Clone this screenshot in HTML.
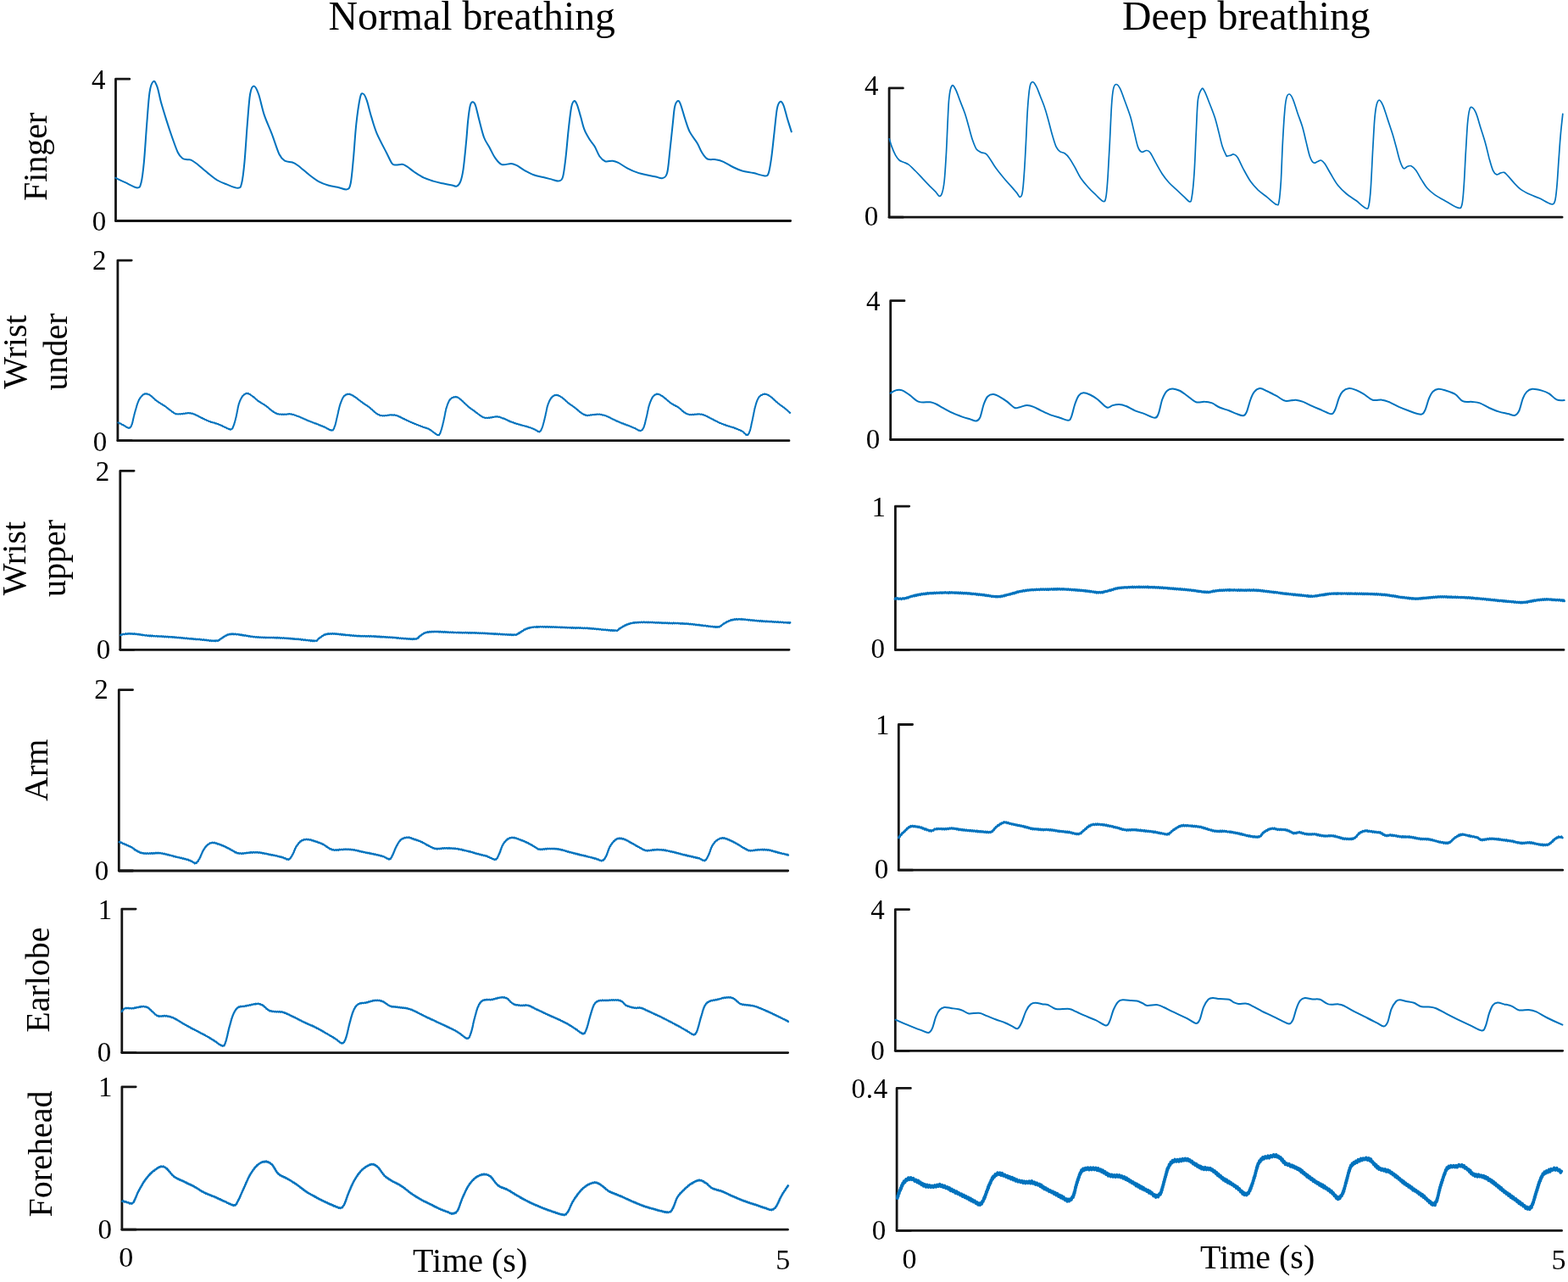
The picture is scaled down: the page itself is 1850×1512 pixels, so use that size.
<!DOCTYPE html>
<html><head><meta charset="utf-8"><title>Normal vs deep breathing PPG</title>
<style>
html,body{margin:0;padding:0;background:#fff;}
svg{display:block;}
.t{font-family:"Liberation Serif","Times New Roman",serif;fill:#000;}
.ax{fill:none;stroke:#141414;stroke-width:2.8;stroke-linecap:round;stroke-linejoin:round;}
.w{fill:none;stroke:#0072bd;stroke-linejoin:round;stroke-linecap:round;}
</style></head>
<body>
<svg width="1850" height="1512" viewBox="0 0 1850 1512">
<text x="387.5" y="35" font-size="47.8" class="t">Normal breathing</text>
<text x="1324" y="35" font-size="47.7" class="t">Deep breathing</text>
<path d="M152.8,93.2H136.5V260.5H932.7" class="ax"/>
<path d="M136.5,260.5H152.8" class="ax" stroke-width="3.4"/>
<path d="M155.2,307.1H138.9V519.7H931.0" class="ax"/>
<path d="M138.9,519.7H155.2" class="ax" stroke-width="3.4"/>
<path d="M158.1,555.3H141.8V766.3H931.1" class="ax"/>
<path d="M141.8,766.3H158.1" class="ax" stroke-width="3.4"/>
<path d="M156.6,813.6H140.3V1027.0H929.7" class="ax"/>
<path d="M140.3,1027.0H156.6" class="ax" stroke-width="3.4"/>
<path d="M160.1,1072.1H143.8V1241.6H929.7" class="ax"/>
<path d="M143.8,1241.6H160.1" class="ax" stroke-width="3.4"/>
<path d="M160.2,1281.8H143.9V1450.2H929.5" class="ax"/>
<path d="M143.9,1450.2H160.2" class="ax" stroke-width="3.4"/>
<path d="M1065.4,103.9H1049.1V256.2H1843.1" class="ax"/>
<path d="M1049.1,256.2H1065.4" class="ax" stroke-width="3.4"/>
<path d="M1067.0,354.7H1050.7V518.5H1844.1" class="ax"/>
<path d="M1050.7,518.5H1067.0" class="ax" stroke-width="3.4"/>
<path d="M1072.7,597.1H1056.4V766.4H1845.0" class="ax"/>
<path d="M1056.4,766.4H1072.7" class="ax" stroke-width="3.4"/>
<path d="M1076.6,854.5H1060.3V1026.2H1843.7" class="ax"/>
<path d="M1060.3,1026.2H1076.6" class="ax" stroke-width="3.4"/>
<path d="M1072.6,1072.7H1056.3V1239.3H1843.7" class="ax"/>
<path d="M1056.3,1239.3H1072.6" class="ax" stroke-width="3.4"/>
<path d="M1074.4,1283.4H1058.1V1451.4H1842.6" class="ax"/>
<path d="M1058.1,1451.4H1074.4" class="ax" stroke-width="3.4"/>
<text x="107.9" y="105.0" font-size="33" class="t">4</text>
<text x="108.7" y="271.5" font-size="33" class="t">0</text>
<text x="109.1" y="318.0" font-size="33" class="t">2</text>
<text x="109.7" y="531.5" font-size="33" class="t">0</text>
<text x="112.7" y="566.9" font-size="33" class="t">2</text>
<text x="113.7" y="776.5" font-size="33" class="t">0</text>
<text x="111.3" y="824.0" font-size="33" class="t">2</text>
<text x="111.7" y="1037.5" font-size="33" class="t">0</text>
<text x="115.7" y="1084.0" font-size="33" class="t">1</text>
<text x="114.7" y="1251.5" font-size="33" class="t">0</text>
<text x="116.0" y="1293.3" font-size="33" class="t">1</text>
<text x="115.4" y="1460.5" font-size="33" class="t">0</text>
<text x="1020.0" y="111.9" font-size="33" class="t">4</text>
<text x="1019.7" y="265.7" font-size="33" class="t">0</text>
<text x="1021.9" y="366.0" font-size="33" class="t">4</text>
<text x="1021.7" y="528.7" font-size="33" class="t">0</text>
<text x="1028.5" y="608.7" font-size="33" class="t">1</text>
<text x="1027.4" y="775.7" font-size="33" class="t">0</text>
<text x="1033.0" y="866.0" font-size="33" class="t">1</text>
<text x="1031.7" y="1036.2" font-size="33" class="t">0</text>
<text x="1027.3" y="1084.3" font-size="33" class="t">4</text>
<text x="1027.2" y="1250.1" font-size="33" class="t">0</text>
<text x="1004.5" y="1295.0" font-size="33" class="t" letter-spacing="0.7">0.4</text>
<text x="1028.7" y="1462.2" font-size="33" class="t">0</text>
<text x="140.3" y="1494.0" font-size="34" class="t">0</text>
<text x="915.2" y="1496.6" font-size="34" class="t">5</text>
<text x="1064.4" y="1495.5" font-size="34" class="t">0</text>
<text x="1830.5" y="1496.6" font-size="34" class="t">5</text>
<text x="487" y="1500" font-size="40" class="t">Time (s)</text>
<text x="1416" y="1496.4" font-size="40" class="t">Time (s)</text>
<text transform="translate(54.6,184.9) rotate(-90)" text-anchor="middle" font-size="40" class="t">Finger</text>
<text transform="translate(31.3,415.0) rotate(-90)" text-anchor="middle" font-size="40" class="t">Wrist</text>
<text transform="translate(79.0,415.0) rotate(-90)" text-anchor="middle" font-size="40" class="t">under</text>
<text transform="translate(29.7,658.5) rotate(-90)" text-anchor="middle" font-size="40" class="t">Wrist</text>
<text transform="translate(76.8,658.5) rotate(-90)" text-anchor="middle" font-size="40" class="t">upper</text>
<text transform="translate(56.2,908.3) rotate(-90)" text-anchor="middle" font-size="40" class="t">Arm</text>
<text transform="translate(58.0,1155.6) rotate(-90)" text-anchor="middle" font-size="40" class="t">Earlobe</text>
<text transform="translate(61.3,1361.0) rotate(-90)" text-anchor="middle" font-size="40" class="t">Forehead</text>
<path d="M136.2,209.7C138.1,210.6 143.4,213.2 147.7,215.2C152.1,217.2 159.0,221.4 162.1,221.4C165.3,221.4 165.3,220.3 166.6,215.2C167.9,210.1 168.8,202.3 169.9,190.8C171.0,179.4 172.1,160.2 173.2,146.5C174.3,132.8 175.2,117.2 176.5,108.8C177.8,100.4 179.5,97.1 181.0,96.0C182.5,94.8 183.9,98.2 185.4,102.2C186.9,106.2 188.0,113.2 189.8,119.9C191.7,126.5 194.3,135.0 196.5,142.1C198.7,149.1 200.9,155.7 203.1,162.0C205.4,168.3 207.8,175.6 209.8,179.7C211.8,183.9 213.5,185.4 215.3,186.8C217.2,188.2 219.2,187.9 220.9,188.2C222.5,188.5 223.5,187.8 225.3,188.6C227.1,189.4 228.6,190.4 232.0,193.0C235.3,195.6 241.2,200.9 245.2,204.1C249.3,207.4 252.6,210.3 256.3,212.5C260.0,214.8 263.3,215.9 267.4,217.4C271.5,219.0 277.8,222.0 280.7,221.8C283.7,221.7 283.8,221.5 285.1,216.3C286.4,211.1 287.4,202.5 288.5,190.8C289.6,179.2 290.7,159.8 291.8,146.5C292.9,133.2 293.8,118.5 295.1,111.0C296.4,103.5 297.9,101.5 299.5,101.5C301.2,101.5 303.1,105.4 305.1,111.0C307.1,116.7 309.2,127.7 311.7,135.4C314.3,143.2 317.6,149.8 320.6,157.6C323.6,165.3 326.9,176.6 329.5,182.0C332.1,187.3 333.5,188.1 336.1,189.7C338.7,191.3 342.4,190.6 345.0,191.5C347.6,192.4 348.3,192.8 351.6,195.2C355.0,197.7 360.9,203.2 364.9,206.3C369.0,209.5 372.3,212.1 376.0,214.1C379.7,216.1 383.4,217.4 387.1,218.5C390.8,219.6 394.5,219.9 398.2,220.7C401.9,221.5 406.7,224.1 409.3,223.4C411.8,222.7 412.4,222.5 413.7,216.3C415.0,210.1 415.9,198.0 417.0,186.4C418.1,174.7 419.0,158.3 420.3,146.5C421.6,134.7 423.5,121.5 424.8,115.5C426.1,109.4 426.8,110.0 428.1,110.4C429.4,110.7 430.9,113.1 432.5,117.7C434.2,122.2 436.0,131.0 438.1,137.6C440.1,144.3 441.8,150.6 444.7,157.6C447.7,164.6 452.8,173.9 455.8,179.7C458.8,185.6 460.6,190.1 462.4,192.6C464.3,195.1 464.8,194.4 466.9,194.6C468.9,194.8 472.4,193.4 474.6,193.7C476.9,194.0 477.8,194.8 480.2,196.4C482.6,197.9 485.7,200.8 489.0,203.0C492.4,205.2 496.4,207.9 500.1,209.7C503.8,211.4 507.5,212.5 511.2,213.6C514.9,214.8 518.6,215.5 522.3,216.3C526.0,217.1 530.6,218.0 533.4,218.5C536.1,219.1 537.2,220.4 538.9,219.6C540.5,218.9 542.0,217.4 543.3,214.1C544.6,210.8 545.5,207.3 546.6,199.7C547.7,192.1 549.0,178.3 549.9,168.7C550.9,159.0 551.4,149.4 552.2,142.1C553.0,134.7 553.9,127.9 554.8,124.3C555.7,120.7 556.7,120.3 557.7,120.3C558.7,120.3 559.7,120.7 561.0,124.3C562.3,127.9 563.8,135.8 565.5,142.1C567.1,148.3 569.0,156.6 571.0,162.0C573.0,167.4 575.4,170.1 577.7,174.2C579.9,178.3 581.9,183.1 584.3,186.4C586.7,189.7 588.9,193.0 592.1,194.1C595.2,195.2 600.2,192.8 603.1,193.0C606.1,193.2 607.2,194.0 609.8,195.2C612.4,196.5 615.3,198.9 618.7,200.8C622.0,202.6 626.0,205.0 629.7,206.3C633.4,207.7 637.1,208.1 640.8,209.0C644.5,209.9 648.8,211.1 651.9,211.9C655.0,212.6 657.6,214.0 659.7,213.4C661.7,212.9 662.8,213.1 664.1,208.5C665.4,204.0 666.3,195.6 667.4,186.4C668.5,177.1 669.6,163.1 670.7,153.1C671.8,143.2 673.0,132.2 674.1,126.5C675.2,120.9 676.3,119.8 677.4,119.2C678.5,118.7 679.4,120.2 680.7,123.2C682.0,126.3 683.7,132.6 685.1,137.6C686.6,142.6 687.7,148.5 689.6,153.1C691.4,157.8 694.2,162.0 696.2,165.3C698.3,168.7 699.9,169.9 701.8,173.1C703.6,176.2 705.3,181.3 707.3,184.2C709.3,187.0 711.4,189.2 714.0,190.2C716.5,191.1 720.2,189.4 722.8,189.7C725.4,190.0 726.5,190.4 729.5,191.9C732.4,193.4 736.9,196.7 740.5,198.6C744.2,200.5 747.9,202.2 751.6,203.4C755.3,204.7 759.0,205.5 762.7,206.3C766.4,207.2 770.7,207.9 773.8,208.5C776.9,209.2 779.3,210.8 781.6,210.1C783.8,209.4 785.6,209.5 787.1,204.1C788.6,198.7 789.3,187.1 790.4,177.5C791.5,167.9 792.8,155.0 793.7,146.5C794.7,138.0 795.0,131.1 796.0,126.5C796.9,122.0 798.2,120.0 799.3,119.2C800.4,118.5 801.1,118.7 802.6,122.1C804.1,125.5 806.3,134.3 808.1,139.8C810.0,145.4 811.3,150.6 813.7,155.4C816.1,160.2 820.2,164.6 822.6,168.7C825.0,172.7 826.1,176.6 828.1,179.7C830.1,182.9 832.0,186.1 834.7,187.5C837.5,188.9 841.6,187.6 844.7,188.2C847.9,188.7 850.3,189.3 853.6,190.8C856.9,192.3 861.0,195.2 864.7,197.0C868.4,198.8 871.7,200.3 875.7,201.5C879.8,202.6 884.6,203.1 889.0,204.1C893.5,205.1 899.4,207.4 902.3,207.4C905.3,207.4 905.5,207.6 906.8,204.1C908.1,200.6 909.0,194.1 910.1,186.4C911.2,178.6 912.3,167.2 913.4,157.6C914.5,148.0 915.6,135.0 916.7,128.8C917.9,122.5 919.2,120.6 920.5,119.9C921.8,119.2 923.1,121.0 924.5,124.3C925.9,127.7 927.4,134.7 928.9,139.8C930.5,145.0 933.0,152.8 933.8,155.4" class="w" stroke-width="2.0"/>
<path d="M139.3,498.5L140.1,498.4L141.3,499.6L142.7,499.6L144.1,501.0L145.5,501.1L146.6,502.3L147.8,502.4L149.0,503.7L150.2,503.9L151.2,504.9L152.2,504.5L153.2,504.8L154.0,503.6L154.7,503.0L155.5,500.7L155.8,500.3L156.1,498.8L156.4,498.2L156.6,496.6L156.9,495.8L157.2,494.0L157.5,493.2L157.8,491.3L158.1,490.5L158.5,488.7L158.8,487.9L159.1,486.2L159.5,485.4L159.8,483.7L160.2,483.0L160.6,481.1L161.0,480.3L161.3,478.5L161.7,477.8L162.1,476.0L162.5,475.5L162.9,473.9L163.2,473.6L164.0,471.3L164.7,470.6L165.5,468.8L166.2,468.5L166.9,467.1L167.7,466.9L168.8,465.3L169.8,465.2L170.9,464.2L172.1,464.7L173.4,464.2L174.7,465.2L176.1,465.3L177.7,466.8L178.5,466.9L179.4,468.2L180.3,468.5L181.3,469.9L182.3,470.4L183.3,471.8L184.4,472.2L185.4,473.5L186.5,473.6L187.6,475.0L188.7,475.1L189.9,476.4L191.1,476.5L192.2,477.7L193.3,477.9L194.3,479.0L195.5,479.4L196.7,480.8L197.7,481.1L198.8,482.6L199.8,482.7L200.9,484.1L202.0,484.4L203.1,485.8L204.2,486.0L205.3,487.3L206.4,487.4L207.6,488.4L208.8,488.1L210.1,488.6L211.4,488.1L212.7,488.6L214.0,487.9L215.3,488.4L216.6,487.6L218.0,488.0L219.3,487.2L220.6,487.6L221.9,486.9L223.1,487.4L224.5,487.1L225.7,487.8L227.0,487.5L228.3,488.4L229.7,488.5L230.7,489.5L231.8,489.4L232.9,490.4L234.0,490.5L235.2,491.7L236.3,491.8L237.5,492.9L238.6,492.8L239.7,494.0L240.8,493.9L241.9,495.1L243.0,494.9L244.1,496.1L245.2,496.0L246.4,497.0L247.5,496.9L248.8,497.9L250.1,497.7L251.4,498.6L252.7,498.4L254.0,499.4L255.2,499.2L256.3,500.1L257.5,500.0L258.6,501.1L259.7,500.9L260.7,501.9L261.8,501.8L263.0,503.0L264.0,502.9L265.2,504.0L266.4,504.1L267.6,505.2L268.8,505.3L270.0,506.3L271.0,506.0L271.8,506.8L273.4,505.9L274.3,505.3L275.2,502.9L275.5,502.5L275.9,500.9L276.3,500.5L276.6,498.7L277.0,498.0L277.4,496.1L277.8,495.2L278.1,493.2L278.5,492.3L278.7,490.8L279.0,490.1L279.2,488.4L279.5,487.7L279.7,485.9L280.0,485.1L280.2,483.3L280.5,482.5L280.7,480.7L281.0,480.0L281.2,478.4L281.5,477.9L281.8,476.2L282.3,475.3L282.8,473.4L283.3,472.7L283.9,470.9L284.5,470.3L285.0,468.7L285.6,468.3L286.2,466.9L287.3,466.4L288.3,464.9L289.4,464.8L290.6,463.7L291.8,464.3L292.8,463.8L293.9,464.9L295.0,464.9L296.2,466.3L297.3,466.6L298.4,468.0L299.4,468.1L300.3,469.4L301.2,469.7L302.1,471.0L303.0,471.3L304.0,472.7L305.1,472.9L306.1,474.2L307.2,474.3L308.3,475.5L309.5,475.7L310.7,476.9L311.8,477.1L312.9,478.4L314.0,478.5L315.0,479.8L316.0,480.2L317.0,481.5L317.9,481.8L318.8,483.1L319.7,483.3L320.6,484.6L321.7,484.7L322.7,486.1L323.8,486.2L324.9,487.4L326.0,487.3L327.3,488.4L328.4,488.1L329.7,488.8L331.0,488.4L332.4,489.0L333.7,488.4L334.9,489.1L336.1,488.4L337.6,489.0L338.8,488.3L340.1,488.6L341.3,487.9L342.8,488.6L343.9,488.2L345.1,489.1L346.3,488.8L347.6,489.7L348.9,489.7L350.2,490.7L351.6,490.7L352.6,491.6L353.7,491.5L354.8,492.6L355.9,492.5L357.0,493.5L358.2,493.5L359.3,494.6L360.5,494.6L361.6,495.6L362.7,495.6L364.0,496.6L365.2,496.5L366.5,497.6L367.8,497.5L369.0,498.5L370.3,498.5L371.5,499.5L372.7,499.3L373.8,500.3L375.2,500.3L376.5,501.4L377.7,501.3L379.0,502.4L380.2,502.2L381.4,503.4L382.7,503.2L383.8,504.4L385.0,504.4L386.2,505.7L387.4,505.8L388.6,507.0L389.7,506.9L390.7,507.7L391.5,507.3L392.7,507.6L393.5,506.1L394.1,505.3L394.8,502.8L395.2,502.5L395.5,501.0L395.8,500.4L396.1,498.7L396.4,498.0L396.7,496.1L397.0,495.4L397.3,493.5L397.6,492.7L397.9,490.8L398.2,490.1L398.5,488.3L398.8,487.6L399.1,485.8L399.3,485.1L399.6,483.3L399.9,482.7L400.2,480.9L400.5,480.2L400.8,478.5L401.2,477.8L401.5,476.2L402.0,475.5L402.5,473.5L403.0,472.8L403.6,470.9L404.1,470.3L404.7,468.6L405.3,468.4L405.9,466.9L407.0,466.5L408.0,465.3L409.1,465.4L410.3,464.6L411.5,465.0L412.5,464.6L413.5,465.5L414.6,465.4L415.7,466.5L416.9,466.6L418.1,468.0L419.0,468.0L419.9,469.2L420.9,469.3L421.9,470.7L422.9,471.0L423.9,472.3L425.0,472.5L426.0,473.8L427.0,474.0L428.0,475.4L429.0,475.4L429.9,476.7L430.9,476.8L431.9,477.9L432.9,478.1L433.9,479.3L434.9,479.5L435.9,480.7L436.8,481.0L437.9,482.6L438.9,482.8L439.9,484.3L440.9,484.7L441.9,486.1L442.9,486.4L443.8,487.7L444.7,487.8L446.1,489.1L447.3,489.1L448.5,490.2L449.8,489.9L451.4,490.5L452.4,490.1L453.6,490.5L454.9,489.9L456.2,490.3L457.6,489.5L458.9,489.9L460.2,489.2L461.4,489.7L462.4,489.2L464.0,489.7L465.3,489.2L466.5,490.0L467.7,489.8L469.1,490.7L470.1,490.6L471.2,491.7L472.3,491.5L473.4,492.7L474.5,492.8L475.7,493.9L476.8,493.8L478.0,495.0L479.1,494.9L480.1,496.0L481.2,496.0L482.3,497.0L483.3,496.9L484.5,498.0L485.6,497.9L486.8,499.0L488.0,498.9L489.2,500.0L490.4,499.9L491.7,501.0L493.0,501.0L494.3,502.0L495.6,501.9L496.8,503.0L497.9,502.9L499.3,503.9L500.6,503.9L501.8,504.8L503.0,504.6L504.2,505.6L505.5,505.5L506.8,506.8L507.9,506.8L509.0,508.2L510.3,508.6L511.5,510.1L512.7,510.5L513.9,511.8L515.0,512.1L515.9,513.2L516.7,512.9L518.0,513.3L518.8,511.8L519.4,510.9L520.1,508.4L520.4,508.1L520.7,506.6L521.1,506.0L521.4,504.2L521.7,503.5L522.1,501.7L522.4,501.0L522.7,498.9L523.1,498.1L523.4,496.2L523.6,495.7L523.9,493.9L524.1,493.3L524.4,491.5L524.6,490.7L524.9,489.0L525.1,488.2L525.4,486.4L525.6,485.8L525.9,484.0L526.1,483.3L526.4,481.8L526.7,481.2L527.2,479.4L527.6,478.6L528.0,476.6L528.5,476.1L529.0,474.4L529.5,473.9L530.0,472.3L530.6,472.1L531.2,470.7L532.1,470.3L533.2,469.1L534.4,469.0L535.6,468.1L536.7,468.5L537.8,467.8L538.9,468.6L539.9,468.3L540.9,469.4L542.0,469.7L543.3,471.3L544.0,471.3L544.9,472.6L545.7,472.9L546.6,474.3L547.5,474.6L548.5,476.1L549.4,476.4L550.3,477.8L551.3,478.1L552.2,479.5L553.1,479.8L554.1,481.1L555.1,481.3L556.1,482.6L557.1,482.7L558.1,484.0L559.1,484.1L560.0,485.4L561.0,485.5L562.0,486.9L563.0,487.1L564.1,488.4L565.1,488.7L566.1,490.0L567.1,490.1L568.1,491.3L569.0,491.3L569.9,492.3L571.3,492.3L572.6,493.1L573.8,492.6L575.0,493.1L576.5,492.5L577.6,493.0L578.9,492.2L580.1,492.6L581.5,491.7L582.8,491.9L584.1,491.3L585.4,491.7L586.5,491.1L587.9,491.9L589.2,491.5L590.5,492.4L591.7,492.4L592.9,493.4L594.3,493.3L595.3,494.3L596.4,494.2L597.5,495.3L598.6,495.3L599.8,496.4L600.9,496.3L602.0,497.5L603.1,497.3L604.4,498.3L605.6,498.1L606.8,499.2L608.0,499.0L609.3,499.9L610.6,499.8L612.0,500.8L613.2,500.5L614.4,501.4L615.7,501.3L617.0,502.1L618.3,502.0L619.6,502.8L620.8,502.6L622.0,503.5L623.1,503.3L624.6,504.3L626.0,504.3L627.3,505.3L628.5,505.2L629.7,506.3L630.8,506.2L632.1,507.4L633.3,507.6L634.4,508.9L635.5,508.7L636.4,509.5L637.4,508.3L638.2,507.9L638.9,505.9L639.7,504.6L640.0,503.0L640.4,502.5L640.7,500.9L641.0,500.3L641.4,498.4L641.7,497.8L642.0,495.9L642.4,495.0L642.7,493.1L643.0,492.4L643.3,490.6L643.6,490.0L643.8,488.1L644.1,487.4L644.4,485.7L644.6,485.0L644.9,483.1L645.2,482.4L645.4,480.6L645.7,480.0L646.0,478.4L646.4,477.9L646.8,476.0L647.4,475.2L647.9,473.3L648.4,472.8L649.0,471.1L649.6,470.8L650.2,469.3L650.8,469.1L651.8,467.5L652.9,467.2L654.0,466.1L655.1,466.3L656.3,465.7L657.4,466.3L658.4,466.0L659.5,467.0L660.6,467.1L661.8,468.3L663.0,468.4L663.9,469.7L664.8,469.9L665.8,471.3L666.8,471.6L667.8,473.1L668.8,473.5L669.8,475.0L670.7,475.2L671.9,476.5L673.0,476.9L674.1,478.2L675.2,478.3L676.4,479.7L677.4,479.9L678.5,481.3L679.5,481.5L680.5,483.0L681.4,483.1L682.4,484.6L683.3,484.8L684.2,486.1L685.1,486.3L686.2,487.5L687.3,487.7L688.4,488.9L689.5,488.8L690.6,489.9L691.8,489.5L693.0,490.3L694.3,489.6L695.6,490.0L696.9,489.2L698.2,489.6L699.5,488.9L700.8,489.3L702.1,488.7L703.4,489.0L704.6,488.4L705.9,488.9L707.3,488.4L708.5,489.1L709.8,488.8L711.0,489.7L712.3,489.4L713.6,490.3L714.9,490.2L716.2,491.3L717.3,491.2L718.4,492.2L719.5,492.3L720.6,493.4L721.7,493.4L722.8,494.6L723.9,494.6L725.0,495.6L726.1,495.6L727.3,496.7L728.4,496.5L729.5,497.6L730.6,497.5L731.7,498.6L732.8,498.4L733.9,499.5L735.2,499.3L736.5,500.5L737.8,500.3L739.1,501.4L740.4,501.3L741.6,502.3L742.8,502.2L744.0,503.3L745.2,503.2L746.3,504.2L747.3,504.2L748.4,505.1L749.4,505.0L750.7,506.3L752.0,506.5L753.3,507.7L754.5,507.6L755.6,508.3L756.7,507.5L757.7,507.3L758.5,505.7L759.4,504.5L759.7,503.1L760.1,502.7L760.4,501.0L760.8,500.3L761.1,498.5L761.4,497.8L761.7,495.8L762.1,495.1L762.4,493.2L762.7,492.4L763.0,490.6L763.3,490.0L763.5,488.3L763.8,487.6L764.0,485.7L764.3,485.0L764.6,483.2L764.8,482.5L765.1,480.7L765.4,480.0L765.7,478.4L766.0,478.0L766.5,476.0L766.9,475.3L767.4,473.4L767.9,472.9L768.4,471.1L768.9,470.6L769.4,469.1L769.9,468.7L770.5,467.5L771.5,466.8L772.6,465.5L773.7,465.5L774.8,464.5L776.0,465.0L777.0,464.7L778.1,465.6L779.1,465.6L780.2,466.7L781.4,467.0L782.7,468.4L783.5,468.5L784.5,469.9L785.5,470.1L786.4,471.5L787.5,471.9L788.5,473.3L789.5,473.5L790.5,475.0L791.5,475.2L792.6,476.4L793.8,476.5L794.9,477.8L796.1,477.8L797.2,479.0L798.3,478.9L799.4,480.2L800.4,480.2L801.5,481.6L802.5,481.9L803.4,483.3L804.3,483.5L805.2,484.9L806.1,485.1L807.0,486.4L808.1,486.5L809.1,487.7L810.1,487.7L811.1,488.6L812.3,488.5L813.7,489.3L814.7,488.8L815.9,489.3L817.2,488.7L818.6,489.2L819.9,488.5L821.2,488.9L822.5,488.3L823.7,488.7L824.8,488.2L826.3,488.9L827.6,488.4L828.8,489.3L830.0,489.1L831.4,490.1L832.4,490.0L833.5,491.1L834.6,491.0L835.7,492.2L836.9,492.2L838.0,493.4L839.2,493.4L840.3,494.6L841.4,494.5L842.5,495.7L843.6,495.7L844.7,496.8L845.8,496.8L846.9,497.9L848.0,497.9L849.1,498.9L850.4,499.0L851.7,500.0L852.9,499.9L854.2,501.0L855.5,500.8L856.7,501.9L858.0,501.7L859.3,502.7L860.5,502.5L861.8,503.6L863.1,503.4L864.3,504.3L865.6,504.1L866.9,505.2L868.0,505.0L869.2,506.0L870.3,506.0L871.5,507.0L872.7,506.9L873.8,508.0L874.8,507.8L875.7,508.9L877.1,509.4L878.3,511.1L879.4,511.6L880.4,513.1L881.3,512.8L882.3,513.1L883.1,511.7L883.8,510.9L884.6,508.3L884.9,508.1L885.2,506.6L885.4,506.0L885.7,504.4L886.0,503.7L886.3,501.9L886.5,501.1L886.8,499.2L887.1,498.4L887.4,496.5L887.7,495.9L887.9,494.0L888.2,493.4L888.4,491.7L888.7,490.9L888.9,489.1L889.2,488.5L889.4,486.6L889.7,485.9L889.9,484.1L890.2,483.4L890.4,481.8L890.7,481.2L891.0,479.6L891.3,479.1L891.7,477.1L892.1,476.2L892.6,474.3L893.0,473.6L893.5,471.8L894.0,471.2L894.5,469.7L895.1,469.2L895.7,467.8L896.7,467.4L897.7,466.0L898.9,465.9L900.0,464.9L901.2,465.1L902.3,464.5L903.4,465.1L904.5,464.9L905.5,465.8L906.6,465.8L907.8,467.1L909.0,467.4L909.9,468.6L910.8,468.8L911.8,470.2L912.8,470.6L913.8,472.1L914.8,472.5L915.8,474.0L916.9,474.3L917.9,475.8L918.9,476.0L919.9,477.3L920.9,477.6L922.0,478.8L923.0,479.0L924.0,480.3L925.0,480.4L925.9,481.8L926.7,481.9L927.9,483.4L929.0,483.8L930.0,485.3L930.9,485.6L931.7,486.9L932.3,486.8" class="w" stroke-width="2.0"/>
<path d="M142.2,749.2L143.0,748.3L144.1,748.7L145.4,747.7L146.8,748.2L148.4,747.2L149.9,747.9L151.0,747.0L152.1,747.7L153.3,747.0L154.5,747.8L155.8,747.1L157.0,748.0L158.4,747.2L159.7,748.1L161.0,747.5L162.1,748.4L163.2,747.7L164.3,748.7L165.3,748.0L166.4,748.9L167.6,748.4L168.7,749.3L170.0,748.8L171.3,749.7L172.8,749.1L174.3,750.0L175.3,749.3L176.4,750.3L177.5,749.4L178.7,750.5L179.8,749.5L181.1,750.5L182.3,749.9L183.6,750.6L184.9,749.9L186.2,750.8L187.5,750.1L188.8,750.9L190.1,750.1L191.4,751.1L192.7,750.3L194.0,751.3L195.2,750.5L196.5,751.4L197.7,750.6L199.0,751.7L200.2,750.9L201.5,751.6L202.8,751.0L204.0,751.8L205.3,751.1L206.6,752.2L207.8,751.4L209.1,752.3L210.4,751.7L211.6,752.5L212.8,751.8L214.0,752.7L215.2,752.0L216.4,753.0L217.5,752.3L218.7,753.2L220.1,752.4L221.4,753.5L222.7,752.8L224.0,753.7L225.3,752.9L226.5,753.8L227.7,753.2L228.9,754.1L230.2,753.4L231.4,754.3L232.6,753.6L233.8,754.4L235.1,753.7L236.4,754.7L237.6,754.0L238.9,755.0L240.3,754.2L241.7,755.2L243.1,754.5L244.5,755.5L245.9,754.9L247.2,755.9L248.6,755.2L249.9,756.1L251.1,755.3L252.3,756.1L253.4,755.4L254.3,756.3L255.2,755.4L257.1,755.9L258.2,754.8L258.9,755.1L259.7,753.5L260.8,753.5L261.7,752.3L262.7,752.5L263.7,750.9L264.8,750.9L266.0,749.6L267.2,749.6L268.4,748.4L269.6,748.7L270.7,747.7L271.7,748.4L272.7,747.5L273.8,748.2L274.9,747.3L276.1,748.3L277.5,747.5L279.0,748.5L280.7,747.8L281.7,748.7L282.7,748.2L283.7,749.1L284.8,748.4L285.9,749.5L287.1,748.8L288.3,749.8L289.6,749.2L290.8,750.2L292.1,749.7L293.4,750.7L294.7,750.1L296.1,751.1L297.4,750.5L298.8,751.4L300.2,750.8L301.5,751.7L302.9,751.1L304.0,751.8L305.1,751.2L306.3,752.0L307.5,751.4L308.7,752.1L309.9,751.5L311.2,752.2L312.4,751.5L313.7,752.4L314.9,751.6L316.2,752.3L317.4,751.6L318.7,752.4L319.9,751.7L321.2,752.4L322.4,751.7L323.6,752.5L324.8,751.8L326.0,752.7L327.2,751.7L328.3,752.7L329.5,751.9L330.8,752.8L332.1,752.1L333.4,752.9L334.7,752.1L336.0,753.0L337.3,752.4L338.5,753.2L339.7,752.5L341.0,753.4L342.2,752.7L343.4,753.6L344.6,752.9L345.8,753.9L346.9,753.1L348.1,754.0L349.3,753.4L350.5,754.1L351.6,753.4L353.0,754.3L354.3,753.6L355.7,754.8L357.1,754.0L358.5,755.1L360.0,754.3L361.3,755.3L362.7,754.8L364.0,755.6L365.3,754.9L366.6,756.1L367.7,755.2L368.8,756.3L369.8,755.3L370.8,756.3L371.6,755.5L373.7,756.0L374.6,754.6L375.0,754.5L376.0,752.8L376.9,752.9L377.9,751.5L379.0,751.5L380.1,749.8L381.3,749.9L382.5,748.3L383.8,748.8L384.9,747.6L386.0,748.2L387.2,747.1L388.4,748.0L389.7,747.1L391.0,747.9L392.3,747.0L393.7,747.8L394.8,747.1L395.9,748.0L397.1,747.3L398.2,748.1L399.4,747.6L400.7,748.5L401.9,747.7L403.2,748.8L404.4,748.0L405.7,749.1L407.0,748.3L408.2,749.3L409.5,748.6L410.7,749.4L412.0,748.7L413.2,749.8L414.5,749.0L415.8,750.0L417.1,749.3L418.5,750.2L419.8,749.5L421.2,750.4L422.6,749.7L423.7,750.5L424.9,749.8L426.1,750.7L427.3,749.9L428.5,750.7L429.8,749.8L431.0,750.7L432.3,750.0L433.5,750.7L434.8,749.9L436.2,750.8L437.5,749.9L438.9,750.9L440.3,750.1L441.4,751.0L442.5,750.2L443.7,751.1L444.8,750.3L446.0,751.3L447.2,750.4L448.4,751.5L449.6,750.7L450.8,751.6L452.0,750.8L453.3,751.6L454.6,751.0L455.8,751.8L457.1,751.2L458.4,752.0L459.8,751.3L461.1,752.1L462.4,751.4L463.6,752.4L464.8,751.6L466.0,752.4L467.3,751.8L468.6,752.8L469.9,752.0L471.3,753.1L472.6,752.4L474.0,753.3L475.4,752.6L476.7,753.5L478.1,752.8L479.4,753.6L480.7,753.1L481.9,753.8L483.1,753.1L484.3,754.0L485.4,753.3L486.4,754.1L487.4,753.2L488.2,754.0L489.0,753.3L491.3,753.6L492.7,752.4L493.6,752.6L494.2,750.9L494.8,751.0L495.7,749.5L496.8,749.6L497.8,748.2L498.9,748.2L500.0,746.7L501.1,746.9L502.3,745.8L503.5,746.1L504.6,745.1L505.8,745.9L507.0,744.8L508.3,745.6L509.7,744.7L511.2,745.4L512.2,744.6L513.3,745.3L514.5,744.6L515.6,745.4L516.8,744.6L518.1,745.6L519.3,744.7L520.6,745.7L521.9,744.9L523.2,745.8L524.5,744.9L525.7,745.8L526.9,745.2L528.0,746.0L529.2,745.3L530.4,746.1L531.6,745.3L532.9,746.2L534.2,745.4L535.5,746.4L536.9,745.6L538.4,746.4L540.0,745.7L541.0,746.5L542.1,745.8L543.2,746.5L544.4,745.8L545.6,746.7L546.8,745.9L548.0,746.6L549.3,745.8L550.6,746.6L551.8,745.8L553.1,746.8L554.4,745.9L555.7,746.8L557.0,746.0L558.3,746.7L559.6,746.0L560.8,746.9L562.0,746.1L563.2,746.9L564.5,746.3L565.8,747.1L567.0,746.3L568.3,747.2L569.5,746.4L570.8,747.2L572.0,746.5L573.2,747.4L574.5,746.6L575.7,747.6L576.9,746.8L578.1,747.7L579.4,747.0L580.6,747.8L581.8,747.1L583.0,748.0L584.2,747.1L585.4,748.1L586.7,747.3L588.0,748.3L589.4,747.4L590.8,748.4L592.2,747.7L593.5,748.6L594.9,747.9L596.3,748.7L597.6,748.0L599.0,748.9L600.2,748.1L601.4,749.0L602.6,748.2L603.7,749.1L604.7,748.4L605.6,749.1L606.5,748.4L608.9,748.9L610.0,747.9L610.7,748.1L612.0,746.5L612.9,747.0L613.9,745.4L615.0,745.5L616.1,744.0L617.2,744.1L618.4,742.4L619.6,742.7L620.9,741.3L622.0,741.7L623.1,740.5L624.2,741.1L625.3,739.9L626.4,740.5L627.7,739.5L629.0,740.0L630.4,739.3L632.0,739.8L633.0,739.0L634.1,739.8L635.2,739.0L636.4,739.7L637.6,738.9L638.9,739.6L640.1,738.9L641.4,739.7L642.7,738.9L644.1,739.8L645.5,738.9L646.9,739.8L648.3,739.0L649.7,739.9L650.8,739.1L651.9,739.9L653.1,739.2L654.3,739.9L655.5,739.3L656.7,740.0L658.0,739.4L659.2,740.1L660.5,739.4L661.8,740.3L663.0,739.5L664.3,740.3L665.6,739.6L666.8,740.5L668.1,739.8L669.4,740.6L670.6,740.0L671.8,740.6L673.1,740.0L674.3,740.8L675.4,740.0L676.6,740.9L677.8,740.1L678.9,741.0L680.1,740.1L681.2,740.9L682.4,740.1L683.5,740.9L684.7,740.2L686.0,741.0L687.2,740.4L688.5,741.2L689.8,740.4L691.2,741.2L692.6,740.4L694.0,741.5L695.1,740.6L696.3,741.6L697.5,740.8L698.7,741.8L700.1,741.1L701.4,742.0L702.8,741.4L704.2,742.3L705.6,741.6L707.0,742.5L708.4,741.9L709.9,742.9L711.3,742.3L712.7,743.1L714.0,742.4L715.4,743.3L716.7,742.6L717.9,743.6L719.2,742.9L720.3,743.9L721.4,743.0L722.4,744.0L723.4,743.2L724.3,744.0L725.0,743.3L728.2,743.9L729.3,742.7L729.6,742.9L730.6,741.2L731.6,741.5L732.6,740.2L733.7,740.2L734.8,738.7L736.0,738.9L737.1,737.4L738.3,737.6L739.5,736.4L740.6,736.7L741.7,735.5L742.9,735.9L744.1,734.8L745.6,735.1L747.2,734.2L748.2,734.8L749.3,733.9L750.5,734.6L751.6,733.8L752.9,734.5L754.1,733.7L755.4,734.3L756.8,733.6L758.2,734.3L759.7,733.4L761.2,734.3L762.7,733.5L763.8,734.4L764.9,733.5L766.0,734.4L767.2,733.7L768.4,734.4L769.6,733.7L770.8,734.5L772.1,733.9L773.4,734.7L774.7,734.0L775.9,734.7L777.2,734.0L778.5,734.9L779.8,734.2L781.1,735.1L782.4,734.3L783.6,735.1L784.9,734.3L786.1,735.2L787.3,734.4L788.6,735.4L789.8,734.5L791.0,735.3L792.3,734.7L793.5,735.5L794.7,734.5L796.0,735.4L797.2,734.7L798.4,735.4L799.7,734.7L800.9,735.5L802.1,734.9L803.3,735.8L804.6,734.8L805.8,735.8L807.0,735.2L808.3,736.0L809.5,735.3L810.8,736.0L812.0,735.4L813.3,736.4L814.6,735.7L815.9,736.5L817.1,735.9L818.4,736.8L819.7,736.2L820.9,737.3L822.1,736.5L823.4,737.5L824.6,736.7L825.8,737.7L826.9,737.1L828.1,738.0L829.2,737.3L830.6,738.3L832.1,737.6L833.5,738.7L834.9,738.0L836.3,739.0L837.7,738.4L839.0,739.3L840.3,738.6L841.6,739.6L842.8,738.9L843.9,739.9L845.0,739.0L846.0,739.8L846.9,739.1L848.7,739.6L849.9,738.3L850.8,738.4L851.6,737.0L852.5,737.0L853.6,735.4L854.6,735.7L855.6,734.4L856.6,734.5L857.7,733.0L858.9,733.3L860.0,732.1L861.2,732.3L862.4,731.0L863.5,731.6L864.6,730.6L865.6,731.2L866.7,730.1L867.9,730.9L869.1,729.9L870.4,730.8L871.9,729.9L873.5,730.7L874.5,729.9L875.6,730.9L876.8,730.2L877.9,730.9L879.2,730.3L880.5,731.2L881.8,730.7L883.1,731.6L884.4,730.8L885.8,731.8L887.1,731.1L888.4,732.1L889.7,731.3L891.0,732.3L892.3,731.7L893.5,732.6L894.8,731.9L896.1,732.8L897.4,731.9L898.6,733.0L899.8,732.1L901.1,733.1L902.3,732.4L903.5,733.3L904.7,732.4L906.0,733.3L907.2,732.7L908.5,733.5L909.8,732.7L911.2,733.7L912.4,733.0L913.7,733.9L915.0,733.1L916.4,734.0L917.8,733.2L919.2,734.2L920.7,733.4L922.1,734.2L923.5,733.6L924.9,734.6L926.3,733.9L927.5,734.6L928.7,734.0L929.8,734.8L930.7,734.0L931.6,735.0L932.3,734.2" class="w" stroke-width="2.2"/>
<path d="M140.6,993.1L141.4,992.6L142.5,994.1L143.7,993.6L145.1,995.2L146.4,994.9L147.7,996.3L148.8,995.9L150.0,997.3L151.1,997.0L152.3,998.3L153.4,998.0L154.5,999.2L155.5,999.1L156.7,1000.5L157.8,1000.7L158.8,1002.3L159.9,1002.1L161.0,1003.6L162.0,1003.4L163.1,1004.8L164.1,1004.4L165.3,1005.9L166.4,1005.4L167.7,1006.5L168.8,1005.9L170.0,1006.8L171.2,1006.1L172.5,1007.0L173.8,1006.1L175.1,1006.9L176.5,1006.2L177.7,1006.9L178.9,1006.0L180.2,1006.9L181.4,1005.9L182.7,1006.7L184.0,1005.7L185.3,1006.5L186.5,1005.6L187.6,1006.5L189.0,1005.8L190.3,1006.7L191.5,1006.2L192.7,1007.3L193.9,1006.6L195.1,1007.7L196.5,1007.3L197.6,1008.4L198.8,1007.8L200.0,1008.9L201.3,1008.5L202.5,1009.5L203.8,1009.2L205.1,1010.3L206.3,1009.8L207.6,1010.9L208.8,1010.5L210.1,1011.5L211.4,1011.0L212.7,1012.2L214.0,1011.6L215.3,1012.8L216.5,1012.2L217.6,1013.3L218.7,1012.8L220.3,1014.0L221.7,1013.6L222.9,1014.9L224.1,1014.5L225.3,1015.8L226.5,1015.7L227.7,1017.1L228.8,1017.2L229.8,1018.5L230.8,1017.6L231.8,1018.0L232.7,1016.3L233.6,1016.0L234.4,1013.8L235.3,1013.2L235.8,1011.4L236.4,1010.9L236.9,1008.9L237.4,1008.5L238.0,1006.5L238.5,1006.0L239.1,1003.9L239.7,1003.6L240.4,1001.7L241.2,1001.2L241.9,999.3L242.7,999.1L243.6,997.3L244.4,997.3L245.2,995.8L246.5,995.6L247.7,994.2L249.0,994.5L250.4,993.6L251.9,994.3L253.0,993.6L254.3,994.7L255.5,994.3L256.8,995.6L258.2,995.2L259.5,996.4L260.8,996.2L261.9,997.4L263.0,997.0L264.1,998.3L265.2,998.0L266.3,999.3L267.4,999.2L268.5,1000.5L269.6,1000.2L270.8,1001.6L271.9,1001.4L273.0,1003.0L274.2,1002.7L275.3,1004.2L276.4,1004.0L277.5,1005.5L278.5,1005.0L279.9,1006.4L281.1,1005.9L282.3,1006.8L283.6,1006.2L285.1,1007.0L286.2,1006.2L287.3,1006.8L288.6,1006.0L289.9,1006.5L291.2,1005.6L292.5,1006.2L293.8,1005.3L295.1,1006.0L296.2,1004.9L297.6,1005.8L298.9,1004.8L300.2,1005.7L301.4,1005.0L302.6,1005.6L303.8,1005.0L305.1,1005.9L306.3,1005.2L307.6,1006.1L308.8,1005.6L310.0,1006.6L311.3,1006.0L312.6,1007.1L314.0,1006.5L315.1,1007.5L316.3,1007.0L317.6,1008.2L318.8,1007.5L320.1,1008.6L321.4,1008.1L322.7,1009.0L323.9,1008.6L325.0,1009.5L326.4,1009.1L327.8,1010.2L329.1,1009.8L330.4,1010.8L331.6,1010.4L332.8,1011.5L333.9,1011.0L335.4,1012.5L336.8,1012.2L338.2,1013.6L339.4,1013.2L340.5,1014.0L341.6,1012.6L342.5,1012.6L343.3,1010.8L344.1,1010.1L345.0,1007.9L345.5,1007.8L346.1,1005.8L346.6,1005.4L347.1,1003.2L347.7,1002.6L348.2,1000.7L348.8,1000.3L349.4,998.3L350.1,998.0L350.9,996.2L351.7,995.9L352.4,994.1L353.3,994.0L354.1,992.3L355.0,992.5L356.2,990.9L357.5,991.2L358.8,989.9L360.2,990.5L361.6,989.6L362.8,990.4L364.0,989.8L365.2,990.7L366.5,990.2L367.9,991.4L369.4,991.1L370.5,992.3L371.6,991.8L372.9,992.9L374.2,992.5L375.5,993.9L376.8,993.6L378.1,994.8L379.3,994.5L380.4,995.9L381.7,995.7L382.9,997.1L384.0,997.3L385.2,998.8L386.2,998.7L387.3,1000.2L388.3,1000.1L389.3,1001.5L390.7,1001.1L391.9,1002.5L393.1,1001.9L394.4,1002.9L396.0,1002.2L397.0,1002.9L398.1,1002.1L399.3,1002.8L400.6,1001.7L401.9,1002.4L403.2,1001.6L404.5,1002.3L405.8,1001.4L407.0,1002.1L408.3,1001.3L409.5,1002.1L410.7,1001.3L412.0,1002.2L413.2,1001.5L414.4,1002.4L415.7,1001.9L416.9,1002.7L418.1,1002.1L419.4,1003.1L420.6,1002.7L421.8,1003.6L423.0,1003.2L424.3,1004.3L425.5,1003.8L426.7,1004.8L428.0,1004.4L429.2,1005.3L430.4,1004.9L431.7,1006.0L432.9,1005.4L434.1,1006.3L435.4,1005.7L436.6,1006.9L437.8,1006.3L439.1,1007.3L440.3,1006.8L441.5,1007.9L442.8,1007.3L444.1,1008.5L445.4,1008.0L446.6,1008.9L447.9,1008.6L449.1,1009.6L450.3,1009.2L451.4,1010.3L452.7,1010.0L454.1,1011.3L455.4,1011.4L456.6,1012.7L457.8,1012.5L458.9,1013.6L459.8,1012.8L460.8,1013.1L461.6,1011.4L462.2,1010.9L462.8,1008.9L463.6,1008.1L464.0,1006.3L464.5,1006.1L464.9,1004.2L465.4,1003.7L465.9,1001.7L466.4,1001.3L466.9,999.5L467.4,999.2L468.0,997.2L468.7,996.8L469.4,994.8L470.2,994.2L470.9,992.4L471.8,992.0L472.6,990.3L473.5,990.4L474.7,988.8L475.9,989.1L477.3,987.8L478.6,988.3L480.0,987.4L481.3,988.1L482.6,987.3L483.8,988.5L485.1,988.1L486.4,989.4L487.7,989.1L489.0,990.4L490.3,989.8L491.5,991.2L492.8,990.7L494.1,992.0L495.3,991.7L496.6,993.1L497.9,992.8L499.0,994.2L500.2,994.1L501.3,995.4L502.4,995.3L503.5,996.8L504.6,996.5L505.7,997.9L506.8,997.7L508.1,999.1L509.4,999.0L510.6,1000.4L511.8,1000.1L513.1,1001.2L514.5,1000.6L515.7,1001.5L516.9,1000.6L518.2,1001.3L519.4,1000.5L520.7,1001.2L522.0,1000.1L523.3,1000.9L524.5,1000.0L525.8,1000.7L527.2,1000.0L528.5,1000.8L529.8,999.9L531.0,1000.9L532.2,1000.2L533.4,1000.9L534.7,1000.3L535.9,1001.2L537.0,1000.3L538.3,1001.3L540.0,1000.8L541.0,1001.9L542.1,1001.3L543.3,1002.2L544.5,1001.6L545.8,1002.9L547.1,1002.3L548.4,1003.4L549.7,1003.0L551.0,1004.0L552.2,1003.5L553.4,1004.6L554.7,1004.1L555.9,1005.2L557.2,1004.8L558.4,1005.9L559.6,1005.5L560.8,1006.7L562.0,1006.3L563.2,1007.3L564.5,1006.9L565.7,1008.0L567.0,1007.5L568.2,1008.6L569.5,1008.2L570.7,1009.3L571.9,1008.7L573.1,1009.8L574.3,1009.4L575.7,1010.8L577.0,1010.6L578.4,1012.0L579.7,1011.8L581.0,1013.2L582.2,1013.0L583.3,1014.0L584.3,1013.3L585.4,1013.6L586.2,1012.2L586.9,1012.0L587.5,1010.0L588.1,1009.4L588.7,1007.3L589.2,1007.0L589.7,1005.0L590.2,1004.7L590.6,1002.4L591.1,1001.9L591.6,999.7L592.1,999.2L592.6,997.2L593.2,997.0L593.9,994.9L594.6,994.5L595.4,992.8L596.2,992.7L597.0,991.0L597.8,991.0L598.7,989.4L599.9,989.6L601.2,988.1L602.5,988.5L603.9,987.6L605.4,988.3L606.5,987.7L607.7,988.6L609.0,988.3L610.3,989.5L611.6,989.2L612.9,990.5L614.2,990.2L615.3,991.4L616.5,991.0L617.6,992.2L618.8,992.0L619.9,993.4L621.0,993.0L622.1,994.3L623.1,993.9L624.3,995.5L625.5,995.3L626.5,996.7L627.6,996.4L628.7,997.9L629.7,997.8L630.8,999.1L631.8,999.0L632.8,1000.5L633.8,1000.4L635.0,1001.8L636.4,1001.3L637.4,1002.2L638.5,1001.4L639.7,1002.1L641.0,1001.1L642.3,1001.8L643.6,1000.8L644.9,1001.6L646.2,1000.6L647.5,1001.3L648.7,1000.6L649.9,1001.4L651.2,1000.6L652.4,1001.4L653.6,1000.6L654.9,1001.5L656.1,1000.8L657.3,1001.7L658.5,1001.0L659.8,1002.1L661.0,1001.5L662.2,1002.6L663.5,1002.1L664.7,1003.2L665.9,1002.8L667.2,1004.0L668.4,1003.6L669.6,1004.8L670.9,1004.2L672.1,1005.4L673.3,1004.9L674.6,1006.0L675.8,1005.5L677.0,1006.6L678.2,1006.2L679.5,1007.3L680.7,1006.7L681.9,1007.9L683.2,1007.4L684.4,1008.6L685.6,1008.1L686.9,1009.1L688.1,1008.6L689.3,1009.6L690.6,1009.1L691.8,1010.3L693.0,1009.8L694.3,1010.8L695.6,1010.5L696.9,1011.5L698.2,1011.0L699.4,1012.2L700.6,1011.7L701.8,1012.9L702.9,1012.3L704.4,1013.6L705.8,1013.4L707.2,1014.8L708.4,1014.5L709.6,1015.5L710.6,1014.5L711.7,1014.8L712.6,1013.4L713.4,1013.1L714.2,1011.0L715.1,1010.3L715.5,1008.6L716.0,1008.2L716.5,1006.0L717.0,1005.5L717.4,1003.4L717.9,1002.9L718.4,1000.8L719.0,1000.3L719.5,998.3L720.2,998.0L721.0,995.9L721.8,995.5L722.6,993.7L723.4,993.5L724.2,991.8L725.0,991.8L726.1,990.1L727.1,990.3L728.2,988.8L729.3,989.3L730.6,988.4L731.7,989.3L733.0,988.5L734.2,989.6L735.6,989.1L737.0,990.4L738.3,990.2L739.4,991.4L740.5,991.3L741.6,992.6L742.7,992.5L743.8,994.0L745.0,993.8L746.1,995.2L747.2,995.0L748.3,996.4L749.5,996.4L750.6,997.8L751.8,997.7L752.9,999.0L754.0,998.9L755.1,1000.3L756.1,1000.0L757.2,1001.4L758.3,1001.3L759.2,1002.5L760.3,1002.2L761.4,1003.3L762.7,1002.9L763.8,1003.7L764.9,1002.7L766.2,1003.4L767.5,1002.6L768.8,1003.1L770.1,1002.0L771.4,1002.8L772.6,1001.9L773.8,1002.6L775.2,1001.7L776.4,1002.5L777.6,1001.8L778.8,1002.6L780.0,1001.9L781.3,1002.8L782.7,1002.1L783.8,1003.1L785.0,1002.4L786.2,1003.6L787.4,1003.0L788.7,1004.0L790.0,1003.6L791.2,1004.7L792.5,1004.1L793.7,1005.2L795.0,1004.6L796.2,1005.8L797.4,1005.2L798.7,1006.4L799.9,1005.9L801.1,1007.0L802.4,1006.5L803.6,1007.7L804.8,1007.3L806.1,1008.5L807.3,1007.8L808.6,1008.9L809.9,1008.4L811.1,1009.6L812.4,1009.1L813.6,1010.1L814.8,1009.6L815.9,1010.6L817.3,1010.1L818.7,1011.4L820.0,1010.7L821.2,1011.9L822.5,1011.4L823.6,1012.4L824.8,1011.9L826.3,1013.3L827.7,1013.4L829.0,1014.8L830.3,1014.5L831.4,1015.4L832.3,1014.1L833.1,1014.2L833.8,1012.4L834.5,1011.8L835.1,1009.8L835.9,1009.1L836.3,1007.3L836.8,1007.0L837.3,1004.9L837.8,1004.3L838.2,1002.2L838.7,1001.6L839.2,999.6L839.7,999.2L840.3,997.2L841.0,996.8L841.8,995.0L842.5,994.8L843.3,992.9L844.1,992.8L845.0,991.3L845.8,991.5L847.1,989.8L848.4,989.8L849.7,988.5L851.1,989.0L852.5,988.0L853.7,988.8L854.9,988.2L856.2,989.4L857.5,989.1L858.9,990.4L860.2,990.2L861.3,991.5L862.4,991.2L863.5,992.5L864.6,992.2L865.7,993.6L866.9,993.4L868.0,994.7L869.1,994.5L870.2,996.1L871.4,995.9L872.5,997.5L873.7,997.4L874.8,998.8L875.9,998.8L877.0,1000.3L878.0,999.9L879.1,1001.4L880.2,1001.2L881.1,1002.5L882.1,1002.2L883.3,1003.4L884.6,1002.9L885.6,1003.6L886.8,1002.9L888.0,1003.4L889.2,1002.6L890.5,1003.1L891.8,1002.1L893.1,1002.8L894.4,1001.8L895.7,1002.6L896.9,1001.8L898.2,1002.5L899.4,1001.7L900.6,1002.6L901.8,1001.6L903.1,1002.6L904.3,1001.8L905.5,1002.8L906.8,1002.1L908.0,1003.1L909.2,1002.6L910.4,1003.8L911.6,1003.2L912.9,1004.5L914.1,1003.9L915.3,1005.1L916.6,1004.6L917.9,1005.9L919.1,1005.3L920.4,1006.4L921.8,1006.1L923.2,1007.1L924.6,1006.7L926.0,1007.7L927.2,1007.3L928.4,1008.4L929.3,1007.7L930.0,1008.7" class="w" stroke-width="2.2"/>
<path d="M143.7,1193.2L144.3,1191.7L145.2,1191.4L146.3,1189.5L147.7,1189.5L148.7,1188.7L149.8,1189.3L151.1,1188.6L152.4,1189.5L153.8,1189.0L155.2,1189.6L156.6,1188.9L157.8,1189.4L159.0,1188.4L160.3,1188.9L161.6,1187.9L162.9,1188.3L164.2,1187.4L165.5,1187.9L166.6,1186.9L167.7,1187.5L169.3,1186.8L170.7,1187.6L172.0,1187.2L173.1,1188.1L174.3,1187.9L175.3,1189.3L176.2,1189.4L177.1,1190.9L178.0,1191.1L178.9,1192.7L179.9,1192.8L180.9,1194.4L181.9,1194.7L182.9,1196.5L184.0,1196.6L185.2,1198.1L186.5,1197.9L187.6,1198.9L188.8,1198.3L190.1,1198.8L191.4,1198.1L192.7,1198.6L194.0,1197.8L195.3,1198.6L196.5,1197.8L197.8,1198.9L199.0,1198.4L200.1,1199.3L201.3,1198.9L202.5,1200.2L203.9,1199.9L205.4,1201.3L206.3,1201.0L207.3,1202.3L208.4,1202.1L209.5,1203.5L210.6,1203.5L211.7,1204.8L212.9,1204.9L214.1,1206.3L215.2,1206.4L216.4,1207.7L217.5,1207.6L218.7,1209.0L219.8,1209.0L220.9,1210.3L222.0,1210.1L223.2,1211.5L224.3,1211.3L225.4,1212.8L226.6,1212.7L227.7,1214.0L228.8,1213.8L229.9,1215.0L230.9,1214.9L232.0,1216.1L233.2,1216.1L234.3,1217.3L235.5,1217.3L236.6,1218.6L237.8,1218.5L238.9,1219.6L239.9,1219.6L241.0,1220.8L242.0,1220.6L243.0,1221.9L244.2,1222.0L245.4,1223.2L246.4,1223.1L247.5,1224.6L248.5,1224.4L249.6,1225.9L250.7,1225.8L251.9,1227.3L252.9,1227.2L254.0,1228.6L255.2,1228.7L256.4,1230.4L257.5,1230.5L258.7,1232.0L259.8,1232.0L260.8,1233.2L261.7,1232.9L262.5,1233.9L263.7,1233.1L264.5,1233.4L265.1,1231.7L265.6,1230.9L266.3,1228.3L266.6,1228.1L266.9,1226.5L267.1,1226.3L267.4,1224.4L267.7,1223.9L268.0,1222.0L268.3,1221.4L268.6,1219.3L268.9,1218.7L269.2,1216.7L269.5,1216.0L269.8,1214.1L270.1,1213.5L270.4,1211.7L270.7,1211.3L271.1,1209.3L271.5,1208.6L271.8,1206.6L272.2,1206.1L272.5,1204.0L272.9,1203.6L273.2,1201.5L273.6,1201.1L274.0,1199.2L274.4,1198.8L274.8,1197.1L275.2,1196.8L275.8,1194.8L276.4,1194.2L277.0,1192.4L277.7,1192.0L278.3,1190.3L279.1,1190.1L279.8,1188.6L280.7,1188.6L281.8,1187.3L282.9,1187.8L284.0,1186.7L285.3,1187.3L286.6,1186.6L288.0,1187.1L289.6,1186.2L290.6,1186.7L291.8,1185.7L293.1,1186.1L294.4,1185.2L295.7,1185.6L297.0,1184.5L298.3,1185.0L299.6,1184.0L300.8,1184.6L301.9,1183.6L302.9,1184.2L304.6,1183.5L306.0,1184.4L307.1,1184.0L308.2,1185.2L309.5,1185.0L310.4,1186.3L311.4,1186.4L312.3,1188.0L313.3,1188.2L314.3,1189.8L315.3,1189.9L316.3,1191.4L317.3,1191.4L318.6,1192.6L319.8,1192.1L321.1,1193.1L322.4,1192.6L323.7,1193.4L325.0,1192.9L326.2,1193.7L327.4,1192.9L328.6,1193.7L329.9,1192.9L331.2,1193.8L332.5,1193.2L333.9,1194.2L334.9,1193.9L335.9,1194.9L337.0,1194.6L338.1,1195.8L339.2,1195.6L340.3,1196.7L341.4,1196.6L342.6,1197.9L343.8,1197.8L345.0,1199.2L346.0,1198.8L347.1,1200.1L348.2,1199.8L349.3,1201.1L350.4,1201.1L351.5,1202.3L352.6,1202.2L353.8,1203.5L354.9,1203.3L356.0,1204.6L357.2,1204.5L358.3,1205.7L359.4,1205.5L360.5,1206.8L361.6,1206.5L362.7,1207.8L363.8,1207.5L364.9,1208.7L366.0,1208.5L367.1,1209.7L368.3,1209.3L369.4,1210.7L370.5,1210.4L371.6,1211.7L372.7,1211.5L373.8,1213.0L375.0,1212.7L376.1,1214.2L377.2,1213.9L378.4,1215.4L379.5,1215.2L380.6,1216.6L381.7,1216.4L382.8,1217.8L383.8,1217.8L384.9,1219.1L386.1,1219.0L387.3,1220.4L388.5,1220.5L389.6,1221.8L390.8,1221.8L391.9,1223.1L392.9,1223.0L394.0,1224.5L395.0,1224.4L396.0,1225.7L397.3,1225.8L398.5,1227.7L399.7,1227.8L400.8,1229.5L401.8,1229.5L402.8,1230.6L403.7,1230.2L404.6,1230.5L405.4,1229.3L406.1,1229.1L406.8,1227.2L407.4,1226.5L408.1,1223.9L408.4,1223.7L408.7,1222.0L409.0,1221.7L409.3,1219.8L409.6,1219.4L409.9,1217.4L410.2,1216.8L410.5,1214.9L410.8,1214.2L411.1,1212.2L411.4,1211.6L411.7,1209.7L412.0,1209.1L412.3,1207.2L412.6,1206.9L412.9,1204.8L413.3,1204.2L413.7,1202.1L414.0,1201.5L414.4,1199.5L414.7,1199.1L415.1,1197.2L415.5,1196.6L415.8,1194.8L416.2,1194.5L416.6,1192.7L417.0,1192.5L417.7,1190.2L418.4,1189.6L419.1,1187.6L419.9,1187.3L420.7,1185.5L421.6,1185.5L422.6,1184.0L423.6,1184.2L424.8,1183.1L426.0,1183.6L427.3,1182.7L428.6,1183.2L430.0,1182.5L431.4,1182.9L432.6,1182.0L433.8,1182.4L435.0,1181.2L436.3,1181.6L437.6,1180.5L438.9,1181.0L440.1,1179.9L441.4,1180.4L442.5,1179.5L443.9,1180.2L445.2,1179.5L446.5,1180.2L447.7,1179.7L448.9,1180.6L450.1,1180.2L451.4,1181.5L452.5,1181.2L453.5,1182.6L454.6,1182.5L455.7,1184.1L456.7,1184.1L457.9,1185.7L459.0,1185.7L460.2,1186.8L461.4,1186.5L462.5,1187.6L463.7,1187.0L464.9,1187.7L466.1,1187.2L467.4,1188.0L468.7,1187.4L470.0,1188.3L471.3,1187.7L472.4,1188.7L473.6,1188.1L474.7,1189.0L475.9,1188.3L477.1,1189.1L478.3,1188.6L479.5,1189.5L480.8,1189.1L482.0,1190.1L483.3,1189.8L484.6,1190.8L485.7,1190.5L486.7,1191.7L487.8,1191.5L488.9,1192.7L490.1,1192.5L491.2,1193.8L492.4,1193.7L493.5,1195.0L494.7,1195.0L495.8,1196.2L496.9,1196.0L498.0,1197.3L499.1,1197.2L500.1,1198.3L501.3,1198.3L502.5,1199.6L503.6,1199.4L504.7,1200.7L505.8,1200.3L506.9,1201.6L508.0,1201.4L509.1,1202.7L510.1,1202.4L511.2,1203.5L512.3,1203.4L513.4,1204.6L514.5,1204.4L515.6,1205.7L516.7,1205.5L517.9,1206.6L519.0,1206.5L520.1,1207.6L521.2,1207.5L522.3,1208.7L523.4,1208.5L524.5,1209.8L525.6,1209.5L526.7,1210.9L527.8,1210.6L529.0,1211.9L530.1,1211.6L531.2,1213.0L532.4,1212.8L533.5,1214.1L534.6,1213.9L535.7,1215.1L536.8,1215.1L537.9,1216.3L538.9,1216.3L540.0,1217.6L541.1,1217.5L542.2,1219.1L543.3,1219.0L544.4,1220.8L545.5,1220.9L546.6,1222.4L547.6,1222.5L548.6,1223.9L549.5,1223.8L550.3,1224.9L551.1,1224.4L552.2,1224.9L553.0,1223.8L553.7,1223.7L554.3,1221.6L554.8,1220.9L555.5,1218.4L555.8,1218.3L556.1,1216.5L556.4,1216.1L556.7,1214.4L557.0,1213.9L557.3,1212.0L557.6,1211.4L557.9,1209.4L558.1,1208.7L558.4,1206.7L558.7,1206.2L559.0,1204.2L559.3,1203.6L559.6,1201.7L559.9,1201.4L560.3,1199.3L560.6,1198.6L561.0,1196.6L561.4,1196.0L561.7,1193.9L562.1,1193.4L562.4,1191.4L562.8,1191.1L563.2,1189.1L563.5,1188.8L563.9,1187.2L564.4,1187.0L565.0,1184.7L565.7,1184.3L566.4,1182.5L567.1,1182.4L567.9,1180.8L568.8,1180.8L569.9,1179.5L570.9,1179.8L572.0,1179.0L573.3,1179.5L574.6,1178.7L575.9,1179.4L577.2,1178.7L578.6,1179.4L579.8,1178.6L581.0,1179.2L582.4,1178.1L583.7,1178.5L585.0,1177.3L586.2,1177.8L587.5,1176.7L588.7,1177.1L589.8,1176.3L591.2,1176.7L592.5,1175.9L593.8,1176.7L595.1,1176.0L596.3,1177.2L597.6,1176.8L598.6,1178.1L599.5,1178.2L600.5,1179.8L601.4,1180.2L602.4,1181.9L603.3,1182.0L604.3,1183.5L605.4,1183.6L606.6,1184.8L607.8,1184.6L609.1,1185.6L610.4,1185.0L611.7,1185.9L612.9,1185.3L614.2,1186.2L615.5,1185.6L616.7,1186.2L617.9,1185.3L619.1,1186.1L620.4,1185.2L621.7,1185.9L623.1,1185.5L624.1,1186.6L625.1,1186.1L626.2,1187.3L627.3,1187.1L628.3,1188.5L629.5,1188.2L630.6,1189.6L631.8,1189.5L633.0,1190.8L634.2,1190.6L635.2,1191.7L636.3,1191.7L637.3,1192.7L638.4,1192.5L639.6,1193.9L640.7,1193.7L641.8,1194.9L642.9,1194.7L644.1,1196.0L645.2,1195.8L646.3,1197.1L647.5,1196.8L648.6,1198.1L649.7,1197.9L650.9,1199.1L652.1,1198.8L653.2,1200.1L654.4,1199.9L655.5,1201.1L656.7,1200.9L657.7,1202.2L658.8,1201.8L659.8,1203.1L660.8,1202.7L662.1,1204.2L663.3,1204.0L664.4,1205.3L665.5,1205.1L666.5,1206.3L667.5,1206.1L668.5,1207.4L669.6,1207.2L670.7,1208.7L671.8,1208.5L672.9,1210.0L674.0,1209.9L675.1,1211.3L676.2,1211.4L677.4,1212.7L678.5,1212.8L679.5,1214.3L680.6,1214.2L681.8,1215.9L682.9,1216.1L684.0,1217.6L685.1,1217.5L686.1,1218.9L687.0,1218.6L687.8,1219.5L688.9,1218.7L689.8,1218.8L690.4,1217.1L691.0,1216.4L691.8,1213.9L692.1,1213.8L692.4,1212.1L692.8,1211.7L693.1,1209.9L693.5,1209.2L693.8,1207.4L694.2,1206.7L694.5,1204.7L694.8,1204.0L695.2,1202.0L695.5,1201.5L695.9,1199.6L696.2,1199.1L696.6,1197.0L697.0,1196.5L697.4,1194.3L697.8,1193.8L698.2,1191.8L698.6,1191.1L699.0,1189.3L699.4,1188.7L699.8,1186.9L700.2,1186.7L700.7,1185.0L701.5,1184.4L702.3,1182.6L703.1,1182.4L704.0,1181.1L705.0,1181.3L706.2,1180.0L707.2,1180.5L708.4,1179.6L709.7,1180.3L711.0,1179.4L712.3,1180.2L713.7,1179.5L714.9,1180.2L716.2,1179.5L717.5,1180.2L718.8,1179.3L720.1,1179.9L721.4,1179.2L722.6,1179.8L723.8,1179.2L725.0,1179.8L726.4,1179.2L727.7,1179.8L729.1,1179.2L730.3,1180.2L731.6,1179.7L732.8,1181.0L733.8,1180.8L734.7,1182.2L735.5,1182.4L736.4,1184.1L737.3,1184.3L738.3,1185.8L739.4,1185.8L740.6,1186.9L741.8,1186.6L743.1,1187.7L744.4,1187.5L745.8,1188.5L747.1,1188.1L748.3,1188.9L749.4,1188.4L750.9,1189.2L752.2,1188.3L753.4,1188.9L754.6,1188.2L756.1,1189.1L757.0,1188.6L758.0,1189.7L759.0,1189.4L760.1,1190.6L761.2,1190.4L762.3,1191.7L763.6,1191.5L764.9,1192.9L765.9,1192.6L766.9,1193.7L767.9,1193.5L769.0,1194.7L770.2,1194.6L771.3,1195.9L772.5,1195.7L773.6,1196.9L774.8,1196.7L776.0,1198.0L777.1,1197.8L778.2,1199.0L779.3,1198.8L780.5,1200.1L781.6,1200.0L782.7,1201.4L783.9,1201.1L785.0,1202.4L786.1,1202.3L787.3,1203.5L788.4,1203.5L789.4,1204.7L790.5,1204.5L791.5,1205.7L792.7,1205.6L793.9,1207.0L795.1,1207.0L796.2,1208.3L797.3,1208.1L798.4,1209.5L799.5,1209.3L800.6,1210.6L801.6,1210.4L802.6,1211.7L803.8,1211.7L805.0,1213.1L806.2,1213.1L807.3,1214.4L808.4,1214.4L809.4,1215.7L810.5,1215.4L811.5,1216.9L812.8,1217.0L814.1,1218.5L815.3,1218.6L816.5,1220.0L817.6,1219.8L818.6,1220.6L819.6,1219.7L820.4,1219.8L821.1,1218.1L821.8,1217.6L822.6,1215.1L822.9,1214.9L823.2,1213.2L823.5,1212.8L823.9,1210.9L824.2,1210.4L824.6,1208.5L824.9,1207.7L825.3,1205.7L825.6,1205.1L826.0,1203.0L826.3,1202.6L826.6,1200.6L827.0,1200.2L827.4,1198.2L827.8,1197.5L828.2,1195.5L828.6,1194.9L828.9,1192.9L829.3,1192.2L829.7,1190.3L830.1,1189.9L830.5,1188.0L831.0,1187.8L831.4,1186.2L832.2,1185.5L833.0,1183.6L833.8,1183.5L834.7,1181.9L835.8,1182.1L837.0,1180.6L838.0,1180.8L839.2,1179.9L840.4,1180.3L841.7,1179.4L843.1,1179.8L844.4,1178.9L845.7,1179.4L846.9,1178.4L848.3,1178.7L849.5,1177.8L850.8,1178.0L852.1,1176.9L853.3,1177.3L854.5,1176.4L855.8,1177.0L857.1,1176.2L858.3,1176.7L859.6,1176.0L860.9,1176.7L862.1,1176.1L863.4,1177.2L864.7,1176.8L865.6,1178.0L866.6,1178.1L867.6,1179.5L868.6,1179.7L869.6,1181.3L870.6,1181.4L871.6,1183.0L872.5,1183.1L873.5,1184.3L874.8,1184.0L876.1,1185.1L877.3,1184.5L878.6,1185.4L879.9,1184.8L881.1,1185.7L882.4,1185.1L883.6,1185.9L884.9,1185.4L886.1,1186.3L887.3,1185.8L888.6,1186.6L889.9,1186.3L891.3,1187.3L892.4,1187.0L893.6,1188.1L894.8,1187.9L896.0,1189.2L897.3,1188.9L898.6,1190.2L899.8,1190.0L901.1,1191.3L902.3,1191.0L903.4,1192.3L904.5,1192.1L905.5,1193.1L906.5,1192.8L907.5,1194.1L908.6,1193.9L909.7,1195.1L910.9,1194.9L912.1,1196.3L913.4,1196.2L914.4,1197.4L915.5,1197.2L916.7,1198.5L917.9,1198.4L919.2,1199.6L920.5,1199.5L921.8,1200.9L923.1,1200.9L924.3,1202.2L925.5,1202.1L926.7,1203.3L927.7,1203.2L928.6,1204.4L929.4,1204.0L930.0,1205.0" class="w" stroke-width="2.2"/>
<path d="M144.4,1416.9L145.4,1416.3L146.9,1417.5L148.5,1417.2L149.9,1418.4L151.5,1418.2L153.0,1419.5L154.4,1419.0L155.5,1419.8L156.5,1418.7L157.7,1418.0L158.1,1416.4L158.5,1416.4L159.0,1414.5L159.5,1414.3L159.9,1412.5L160.5,1411.9L161.0,1410.0L161.5,1409.5L162.1,1407.3L162.6,1406.9L163.2,1405.0L163.8,1404.7L164.4,1402.8L165.0,1402.5L165.6,1400.5L166.3,1400.1L166.9,1398.3L167.6,1397.9L168.3,1395.8L168.9,1395.6L169.6,1393.7L170.3,1393.5L171.0,1391.7L171.8,1391.4L172.5,1389.6L173.3,1389.5L174.1,1387.6L174.9,1387.6L175.7,1385.8L176.5,1385.7L177.3,1384.0L178.2,1384.1L179.0,1382.5L179.9,1382.4L180.9,1380.8L182.1,1380.8L183.2,1379.1L184.4,1379.1L185.6,1377.4L186.7,1377.6L187.8,1376.2L188.9,1376.5L189.8,1375.4L191.3,1376.2L192.6,1375.5L193.8,1376.6L195.1,1376.7L196.5,1378.6L197.3,1378.3L198.0,1380.0L198.8,1380.1L199.7,1381.9L200.5,1382.1L201.4,1384.0L202.3,1384.4L203.3,1386.1L204.3,1386.4L205.4,1388.0L206.3,1388.0L207.3,1389.3L208.4,1389.2L209.5,1390.6L210.7,1390.3L211.9,1391.7L213.0,1391.4L214.2,1392.6L215.4,1392.4L216.5,1393.6L217.6,1393.4L218.7,1394.8L219.9,1394.5L221.0,1396.0L222.1,1395.7L223.2,1397.0L224.3,1396.6L225.4,1398.0L226.5,1397.7L227.6,1399.0L228.6,1398.8L229.7,1400.2L230.8,1400.1L231.9,1401.4L233.0,1401.4L234.1,1402.8L235.1,1402.8L236.2,1404.3L237.3,1404.2L238.5,1405.6L239.6,1405.4L240.8,1406.8L241.9,1406.6L242.9,1407.9L244.0,1407.5L245.2,1408.8L246.3,1408.5L247.5,1409.7L248.6,1409.4L249.8,1410.7L250.9,1410.4L252.0,1411.4L253.1,1411.1L254.1,1412.4L255.3,1412.1L256.5,1413.5L257.6,1413.3L258.7,1414.5L259.8,1414.1L260.9,1415.5L261.9,1415.3L263.0,1416.5L264.1,1416.3L265.2,1417.4L266.5,1417.3L267.8,1418.8L269.1,1418.7L270.5,1420.0L271.8,1419.8L273.1,1421.2L274.3,1420.8L275.3,1421.9L276.3,1421.2L277.6,1421.6L278.4,1420.3L279.1,1420.0L279.8,1417.9L280.7,1416.8L281.1,1415.2L281.6,1415.2L282.1,1413.5L282.6,1413.2L283.1,1411.3L283.6,1410.9L284.1,1409.0L284.6,1408.5L285.2,1406.6L285.7,1406.0L286.3,1404.0L286.8,1403.7L287.4,1401.6L287.8,1401.4L288.3,1399.6L288.8,1399.2L289.3,1397.3L289.8,1397.0L290.3,1394.9L290.8,1394.6L291.4,1392.6L291.9,1392.2L292.4,1390.4L292.9,1389.9L293.5,1388.0L294.0,1387.8L294.6,1385.9L295.1,1385.8L295.8,1383.9L296.5,1383.5L297.3,1381.7L298.0,1381.3L298.7,1379.5L299.5,1379.2L300.2,1377.5L301.0,1377.3L301.7,1375.7L302.5,1375.7L303.2,1374.1L304.0,1374.3L305.1,1372.6L306.2,1372.5L307.4,1371.2L308.5,1371.3L309.6,1370.1L310.7,1370.6L311.8,1369.7L312.8,1370.4L314.0,1369.5L315.1,1370.5L316.2,1370.1L317.3,1371.4L318.4,1371.2L319.5,1372.7L320.6,1372.9L321.3,1374.3L322.0,1374.4L322.7,1376.4L323.3,1376.5L324.0,1378.5L324.7,1378.7L325.4,1380.8L326.1,1381.1L326.8,1383.0L327.6,1383.1L328.4,1384.8L329.4,1384.7L330.4,1386.4L331.5,1386.2L332.6,1387.5L333.7,1387.2L334.8,1388.5L336.0,1388.2L337.2,1389.6L338.3,1389.4L339.4,1390.8L340.5,1390.6L341.6,1392.1L342.7,1391.9L343.8,1393.4L344.9,1393.4L346.1,1394.9L347.2,1394.6L348.3,1396.2L349.4,1396.2L350.4,1397.6L351.4,1397.6L352.4,1399.1L353.4,1399.1L354.5,1400.8L355.5,1400.7L356.5,1402.3L357.5,1402.3L358.5,1403.9L359.5,1403.8L360.5,1405.4L361.6,1405.3L362.7,1406.8L363.8,1406.6L364.9,1408.1L366.0,1408.0L367.1,1409.3L368.3,1409.2L369.4,1410.6L370.5,1410.3L371.6,1411.9L372.7,1411.5L373.8,1413.1L374.9,1412.8L376.0,1414.2L377.1,1414.0L378.2,1415.3L379.3,1415.0L380.4,1416.4L381.6,1416.2L382.7,1417.5L383.8,1417.3L384.9,1418.5L386.1,1418.3L387.3,1419.7L388.4,1419.4L389.5,1420.7L390.7,1420.3L391.7,1421.6L392.8,1421.2L393.7,1422.5L395.3,1422.3L396.7,1423.7L398.0,1423.4L399.3,1424.8L400.4,1424.3L401.5,1425.1L402.8,1424.1L403.9,1424.3L404.8,1422.3L405.9,1421.3L406.4,1419.7L406.8,1419.5L407.2,1417.6L407.7,1417.4L408.1,1415.2L408.6,1414.8L409.0,1412.6L409.5,1412.1L410.0,1409.8L410.5,1409.4L411.0,1407.3L411.5,1406.8L411.9,1405.0L412.4,1404.6L412.9,1402.7L413.4,1402.4L413.8,1400.4L414.3,1400.2L414.8,1398.1L415.4,1397.9L415.9,1396.0L416.4,1395.6L417.0,1393.8L417.5,1393.5L418.1,1391.7L418.8,1391.3L419.4,1389.6L420.1,1389.2L420.8,1387.3L421.5,1387.0L422.3,1385.0L423.0,1384.9L423.8,1383.1L424.6,1383.0L425.4,1381.1L426.2,1381.1L427.0,1379.4L428.0,1379.3L429.1,1377.6L430.3,1377.6L431.4,1376.0L432.6,1376.0L433.8,1374.6L434.9,1374.8L436.0,1373.5L437.1,1373.9L438.1,1372.9L439.3,1373.5L440.5,1372.9L441.6,1374.1L442.7,1373.8L443.7,1375.2L444.7,1375.2L445.8,1376.9L446.6,1377.0L447.4,1378.7L448.1,1378.8L448.9,1380.7L449.6,1381.0L450.4,1382.9L451.2,1383.2L452.0,1385.1L452.8,1385.2L453.6,1386.9L454.5,1387.1L455.4,1388.5L456.4,1388.5L457.3,1390.0L458.3,1389.8L459.3,1391.2L460.3,1391.1L461.4,1392.5L462.4,1392.4L463.5,1393.8L464.5,1393.6L465.6,1394.8L466.7,1394.6L467.8,1396.0L469.0,1395.8L470.1,1397.1L471.3,1396.9L472.4,1398.5L473.5,1398.4L474.5,1399.8L475.5,1399.7L476.6,1401.4L477.6,1401.3L478.6,1402.9L479.6,1402.9L480.6,1404.4L481.6,1404.4L482.6,1406.1L483.6,1406.1L484.6,1407.5L485.7,1407.5L486.8,1409.0L487.9,1409.1L489.0,1410.5L490.2,1410.5L491.3,1412.1L492.4,1411.8L493.5,1413.3L494.6,1413.2L495.7,1414.6L496.8,1414.4L497.9,1415.8L499.0,1415.6L500.1,1417.1L501.2,1416.8L502.3,1418.0L503.4,1417.7L504.6,1419.1L505.7,1418.9L506.8,1420.3L507.9,1420.0L509.0,1421.3L510.1,1421.0L511.2,1422.5L512.3,1422.3L513.4,1423.6L514.5,1423.3L515.6,1424.6L516.7,1424.5L517.9,1425.8L519.1,1425.5L520.4,1426.8L521.8,1426.6L523.1,1428.0L524.4,1427.7L525.7,1428.9L526.8,1428.6L528.0,1429.7L528.9,1429.3L530.7,1431.0L532.0,1430.6L533.2,1431.8L534.4,1430.8L535.5,1431.5L536.6,1430.3L537.8,1430.5L538.9,1428.7L540.0,1427.9L540.4,1426.3L540.9,1426.2L541.3,1424.3L541.7,1423.9L542.2,1422.0L542.6,1421.5L543.0,1419.3L543.5,1418.9L544.0,1416.7L544.5,1416.1L545.0,1414.0L545.5,1413.5L546.0,1411.6L546.5,1411.3L547.0,1409.4L547.5,1409.1L548.1,1407.1L548.6,1406.7L549.2,1404.7L549.8,1404.2L550.3,1402.4L550.9,1402.1L551.5,1400.1L552.1,1399.9L552.7,1398.1L553.3,1398.1L554.1,1396.0L555.0,1395.7L555.8,1393.9L556.7,1393.5L557.6,1391.8L558.5,1391.7L559.4,1390.0L560.3,1390.0L561.2,1388.5L562.1,1388.6L563.4,1387.1L564.7,1387.2L566.0,1385.8L567.3,1386.2L568.5,1384.9L569.8,1385.6L571.0,1384.6L572.3,1385.5L573.6,1384.8L574.9,1385.9L576.1,1385.6L577.4,1387.1L578.8,1387.2L579.5,1388.7L580.3,1388.8L581.0,1390.5L581.8,1390.7L582.6,1392.6L583.4,1393.0L584.2,1394.7L585.0,1395.1L585.9,1396.7L586.7,1396.9L587.6,1398.5L588.6,1398.3L589.7,1399.8L590.8,1399.6L591.9,1400.9L593.0,1400.4L594.2,1401.7L595.3,1401.3L596.5,1402.6L597.6,1402.1L598.7,1403.6L599.8,1403.5L600.9,1404.7L602.0,1404.5L603.0,1406.1L604.1,1406.0L605.2,1407.4L606.3,1407.3L607.4,1408.9L608.6,1408.7L609.8,1410.2L610.8,1410.0L611.9,1411.3L613.0,1411.1L614.1,1412.7L615.2,1412.5L616.3,1414.0L617.4,1413.7L618.6,1415.2L619.7,1414.9L620.8,1416.4L622.0,1416.2L623.1,1417.5L624.2,1417.3L625.3,1418.6L626.4,1418.4L627.5,1419.6L628.6,1419.4L629.7,1420.6L630.8,1420.4L632.0,1421.7L633.1,1421.3L634.2,1422.5L635.3,1422.3L636.4,1423.5L637.6,1423.3L638.8,1424.5L640.0,1424.3L641.2,1425.5L642.4,1425.2L643.6,1426.3L644.8,1426.0L646.0,1427.4L647.2,1426.9L648.4,1428.1L649.7,1427.7L650.9,1429.0L652.1,1428.6L653.4,1429.9L654.7,1429.5L656.1,1430.8L657.4,1430.5L658.7,1431.7L659.9,1431.3L661.1,1432.4L662.2,1431.9L663.2,1432.9L664.1,1432.2L665.7,1433.2L666.9,1432.1L667.8,1432.5L668.6,1430.6L669.6,1430.2L670.1,1428.7L670.6,1428.6L671.2,1426.7L671.7,1426.4L672.2,1424.5L672.7,1424.0L673.3,1422.0L673.9,1421.5L674.4,1419.5L675.0,1419.2L675.6,1417.1L676.3,1416.9L676.9,1415.0L677.6,1414.7L678.3,1412.7L679.1,1412.5L679.8,1410.7L680.6,1410.5L681.3,1408.5L682.1,1408.4L682.9,1406.6L683.6,1406.4L684.4,1404.7L685.1,1404.7L686.1,1402.8L687.1,1402.7L688.1,1400.9L689.1,1400.8L690.1,1399.4L691.1,1399.5L692.0,1397.9L693.0,1398.1L694.0,1396.7L695.3,1397.0L696.6,1395.6L697.9,1395.8L699.2,1394.7L700.4,1395.3L701.7,1394.3L702.9,1395.1L704.0,1394.5L705.2,1395.8L706.3,1395.5L707.4,1396.9L708.4,1396.8L709.5,1398.4L710.6,1398.4L711.6,1399.9L712.4,1399.7L713.3,1401.4L714.2,1401.3L715.1,1402.9L716.1,1402.9L717.2,1404.5L718.4,1404.6L719.3,1405.9L720.3,1405.5L721.3,1406.8L722.4,1406.4L723.5,1407.6L724.7,1407.3L725.9,1408.6L727.0,1408.1L728.2,1409.5L729.4,1409.2L730.6,1410.5L731.7,1410.1L732.8,1411.4L733.9,1411.0L735.0,1412.3L736.1,1412.1L737.2,1413.3L738.3,1413.2L739.4,1414.4L740.5,1414.0L741.7,1415.4L742.8,1415.1L743.9,1416.4L745.0,1416.2L746.1,1417.4L747.2,1417.1L748.3,1418.4L749.4,1417.9L750.5,1419.2L751.6,1419.0L752.7,1420.1L753.8,1419.8L755.0,1421.1L756.1,1420.8L757.2,1422.0L758.3,1421.5L759.5,1422.9L760.7,1422.5L761.8,1423.6L763.0,1423.1L764.1,1424.3L765.3,1423.8L766.5,1425.1L767.7,1424.6L769.0,1425.7L770.2,1425.3L771.6,1426.4L772.7,1425.9L773.9,1427.1L775.1,1426.6L776.4,1427.8L777.7,1427.4L779.1,1428.4L780.4,1427.9L781.7,1429.2L782.9,1428.7L784.2,1429.7L785.3,1429.1L786.4,1430.1L787.3,1429.3L788.2,1430.1L790.0,1429.2L791.2,1429.4L792.1,1427.7L792.8,1427.4L793.7,1424.9L794.2,1424.9L794.6,1423.1L795.1,1422.8L795.5,1420.9L795.9,1420.6L796.4,1418.5L796.8,1418.2L797.3,1416.0L797.7,1415.6L798.2,1413.7L798.7,1413.4L799.3,1411.7L800.0,1411.3L800.8,1409.4L801.7,1409.1L802.5,1407.3L803.4,1407.2L804.3,1405.5L805.2,1405.3L806.1,1403.7L807.0,1403.6L808.0,1401.8L808.9,1401.7L809.9,1400.1L810.9,1400.1L811.9,1398.3L812.9,1398.3L813.9,1396.7L814.9,1396.8L815.9,1395.4L817.0,1395.7L818.1,1394.2L819.3,1394.2L820.4,1393.0L821.5,1393.3L822.6,1392.1L823.7,1392.6L824.8,1391.6L826.1,1392.5L827.4,1391.9L828.7,1393.3L830.0,1393.0L831.2,1394.7L832.5,1394.6L833.5,1396.0L834.4,1395.9L835.3,1397.6L836.2,1397.8L837.1,1399.4L838.1,1399.4L839.2,1401.1L840.3,1401.1L841.4,1402.3L842.5,1401.9L843.6,1403.0L844.9,1402.7L846.1,1403.8L847.4,1403.3L848.7,1404.5L850.0,1404.0L851.4,1405.3L852.4,1404.9L853.5,1406.1L854.5,1405.9L855.6,1407.1L856.7,1406.9L857.9,1408.1L859.0,1407.9L860.1,1409.3L861.3,1409.0L862.4,1410.4L863.5,1410.1L864.7,1411.4L865.8,1411.0L866.9,1412.3L868.0,1411.9L869.1,1413.2L870.2,1413.0L871.3,1414.1L872.4,1413.9L873.5,1415.1L874.6,1414.8L875.7,1416.0L876.9,1415.7L878.0,1416.8L879.2,1416.4L880.4,1417.7L881.6,1417.3L882.9,1418.6L884.1,1418.1L885.4,1419.5L886.6,1419.0L887.8,1420.2L889.0,1419.7L890.1,1420.9L891.3,1420.5L892.6,1421.7L893.9,1421.3L895.2,1422.6L896.5,1422.3L897.8,1423.5L899.0,1423.2L900.1,1424.3L901.3,1423.9L902.3,1425.0L903.9,1424.7L905.3,1426.1L906.6,1425.8L907.8,1427.0L909.0,1426.5L910.1,1427.2L911.3,1426.3L912.4,1426.6L913.4,1425.2L914.5,1424.9L915.6,1422.7L916.2,1422.7L916.7,1421.0L917.2,1420.7L917.7,1419.0L918.3,1418.6L918.8,1416.5L919.4,1416.1L919.9,1414.1L920.5,1413.7L921.1,1411.7L921.7,1411.4L922.3,1409.5L923.0,1409.1L923.7,1407.0L924.5,1406.6L925.4,1404.5L926.2,1404.2L927.0,1402.1L927.7,1401.7L928.5,1400.0L929.1,1399.8L929.6,1398.3L930.0,1398.5" class="w" stroke-width="2.4"/>
<path d="M1049.3,163.8C1049.8,165.3 1051.0,169.9 1052.2,173.1C1053.4,176.3 1055.1,180.4 1056.6,183.1C1058.1,185.7 1059.4,187.6 1061.1,189.0C1062.7,190.4 1064.7,190.6 1066.6,191.5C1068.4,192.3 1069.9,192.5 1072.1,194.1C1074.4,195.8 1077.1,198.7 1079.9,201.5C1082.7,204.2 1085.8,207.7 1088.8,210.8C1091.7,213.9 1095.0,217.4 1097.6,220.1C1100.2,222.7 1102.5,224.8 1104.3,226.7C1106.0,228.6 1107.1,231.2 1108.3,231.4C1109.4,231.6 1110.4,231.1 1111.4,228.0C1112.4,225.0 1113.4,221.0 1114.2,213.0C1115.1,204.9 1115.8,190.8 1116.5,179.7C1117.1,168.7 1117.5,157.2 1118.0,146.5C1118.6,135.8 1118.9,123.0 1119.8,115.5C1120.6,107.9 1121.8,102.7 1123.1,101.1C1124.4,99.4 1125.9,102.3 1127.5,105.5C1129.2,108.6 1131.2,115.1 1133.1,119.9C1134.9,124.7 1137.0,129.3 1138.6,134.3C1140.3,139.3 1141.6,144.6 1143.1,149.8C1144.5,155.0 1146.0,161.0 1147.5,165.3C1149.0,169.6 1150.3,173.3 1151.9,175.7C1153.6,178.1 1155.6,178.8 1157.5,179.7C1159.3,180.7 1161.3,180.2 1163.0,181.3C1164.7,182.4 1165.4,183.5 1167.4,186.4C1169.5,189.3 1172.4,194.7 1175.2,198.6C1178.0,202.5 1181.1,206.1 1184.1,209.7C1187.0,213.2 1190.3,216.7 1192.9,219.6C1195.5,222.6 1197.8,225.3 1199.6,227.4C1201.3,229.5 1202.2,232.3 1203.3,232.3C1204.5,232.3 1205.4,232.1 1206.2,227.4C1207.1,222.7 1207.8,213.2 1208.4,204.1C1209.1,195.1 1209.5,185.6 1210.2,173.1C1210.9,160.5 1211.6,140.6 1212.4,128.8C1213.2,116.9 1214.1,107.5 1215.1,102.2C1216.1,96.8 1217.1,96.6 1218.4,96.6C1219.7,96.6 1221.4,99.4 1222.8,102.2C1224.3,104.9 1225.6,109.0 1227.3,113.2C1228.9,117.5 1231.2,122.7 1232.8,127.7C1234.5,132.6 1235.8,137.8 1237.3,143.2C1238.7,148.5 1240.2,154.8 1241.7,159.8C1243.2,164.8 1244.6,169.9 1246.1,173.1C1247.6,176.2 1248.9,177.3 1250.5,178.6C1252.2,179.9 1254.2,179.5 1256.1,180.8C1257.9,182.1 1259.6,183.6 1261.6,186.4C1263.7,189.2 1266.1,193.6 1268.3,197.5C1270.5,201.3 1272.3,205.8 1274.9,209.7C1277.5,213.5 1280.8,217.4 1283.8,220.7C1286.7,224.1 1289.7,226.8 1292.7,229.6C1295.6,232.4 1299.5,236.8 1301.5,237.4C1303.6,237.9 1303.9,237.7 1304.8,232.9C1305.8,228.1 1306.3,219.3 1307.1,208.5C1307.8,197.8 1308.5,182.7 1309.3,168.7C1310.0,154.6 1310.8,135.0 1311.5,124.3C1312.2,113.6 1312.8,108.5 1313.7,104.4C1314.6,100.2 1315.7,99.5 1317.0,99.5C1318.3,99.5 1319.8,101.2 1321.5,104.4C1323.1,107.6 1325.0,113.2 1327.0,118.8C1329.0,124.3 1331.8,131.5 1333.7,137.6C1335.5,143.7 1336.6,149.4 1338.1,155.4C1339.6,161.3 1341.0,169.1 1342.5,173.1C1344.0,177.1 1345.3,178.6 1347.0,179.3C1348.6,180.0 1350.8,177.4 1352.5,177.5C1354.2,177.6 1355.1,177.3 1356.9,179.7C1358.8,182.1 1361.2,187.7 1363.6,191.9C1366.0,196.2 1368.8,201.3 1371.3,205.2C1373.9,209.1 1376.3,212.1 1379.1,215.2C1381.9,218.3 1385.0,220.8 1388.0,223.6C1390.9,226.4 1394.2,229.5 1396.8,231.8C1399.4,234.2 1401.9,237.6 1403.5,237.8C1405.0,238.0 1405.2,238.5 1406.1,232.9C1407.1,227.3 1408.2,216.7 1409.0,204.1C1409.9,191.6 1410.5,172.0 1411.2,157.6C1412.0,143.2 1412.3,126.5 1413.4,117.7C1414.6,108.9 1416.6,106.5 1417.9,104.8C1419.2,103.2 1419.7,105.0 1421.2,107.7C1422.7,110.4 1424.7,115.8 1426.7,121.0C1428.8,126.2 1431.5,133.0 1433.4,138.7C1435.2,144.5 1436.4,149.6 1437.8,155.4C1439.3,161.1 1440.8,168.5 1442.3,173.1C1443.7,177.7 1445.8,181.2 1446.7,183.1C1447.6,184.9 1446.8,184.2 1447.8,184.2C1448.7,184.2 1450.9,183.4 1452.2,183.1C1453.5,182.7 1454.2,181.6 1455.5,182.0C1456.8,182.3 1458.1,182.5 1459.9,185.3C1461.8,188.0 1464.0,193.8 1466.6,198.6C1469.2,203.4 1472.5,209.8 1475.5,214.1C1478.4,218.3 1481.0,220.9 1484.3,224.1C1487.7,227.2 1491.8,230.0 1495.4,232.9C1499.0,235.8 1503.8,240.6 1506.0,241.3C1508.3,242.1 1508.3,242.1 1509.1,237.4C1510.0,232.6 1510.7,223.7 1511.4,213.0C1512.0,202.3 1512.5,186.0 1513.1,173.1C1513.8,160.2 1514.6,144.8 1515.4,135.4C1516.1,126.0 1516.6,120.6 1517.6,116.6C1518.5,112.5 1519.6,111.0 1520.9,111.0C1522.2,111.0 1523.7,112.9 1525.3,116.6C1527.0,120.3 1529.0,127.8 1530.9,133.2C1532.7,138.5 1534.7,143.2 1536.4,148.7C1538.1,154.2 1539.4,160.5 1540.8,166.4C1542.3,172.3 1543.8,179.9 1545.3,184.2C1546.8,188.4 1548.2,190.8 1549.7,191.9C1551.2,193.0 1552.7,191.3 1554.1,190.8C1555.6,190.3 1557.1,188.7 1558.6,189.0C1560.1,189.4 1561.0,190.2 1563.0,193.0C1565.0,195.9 1568.2,202.1 1570.8,206.3C1573.3,210.6 1575.6,214.8 1578.5,218.5C1581.5,222.2 1585.0,225.5 1588.5,228.5C1592.0,231.4 1595.7,233.4 1599.6,236.3C1603.5,239.1 1609.2,244.9 1611.8,245.8C1614.3,246.7 1614.2,245.8 1615.1,241.8C1616.0,237.8 1616.6,232.2 1617.3,221.8C1618.0,211.5 1618.8,193.0 1619.5,179.7C1620.3,166.4 1621.0,151.3 1621.7,142.1C1622.5,132.8 1623.0,128.3 1624.0,124.3C1624.9,120.3 1626.0,118.1 1627.3,118.1C1628.6,118.1 1630.0,120.5 1631.7,124.3C1633.4,128.1 1635.4,135.4 1637.3,140.9C1639.1,146.5 1641.1,152.2 1642.8,157.6C1644.5,162.9 1645.7,167.7 1647.2,173.1C1648.7,178.4 1650.2,185.5 1651.7,189.7C1653.1,194.0 1654.6,197.5 1656.1,198.6C1657.6,199.7 1659.0,196.8 1660.5,196.4C1662.0,195.9 1663.3,195.0 1665.0,195.7C1666.6,196.4 1668.5,198.1 1670.5,200.8C1672.5,203.5 1674.9,208.4 1677.1,211.9C1679.4,215.4 1681.2,218.9 1683.8,221.8C1686.4,224.8 1689.0,227.0 1692.7,229.6C1696.4,232.2 1701.3,234.8 1706.0,237.4C1710.6,239.9 1717.2,244.4 1720.4,245.1C1723.5,245.9 1723.7,245.7 1724.8,241.8C1725.9,237.9 1726.3,231.8 1727.0,221.8C1727.8,211.9 1728.5,194.5 1729.2,182.0C1730.0,169.4 1730.7,155.2 1731.4,146.5C1732.2,137.8 1732.8,133.2 1733.7,129.9C1734.5,126.5 1735.2,126.0 1736.5,126.5C1737.8,127.1 1739.7,129.1 1741.4,133.2C1743.2,137.3 1745.1,145.0 1747.0,150.9C1748.8,156.8 1750.8,162.7 1752.5,168.7C1754.2,174.6 1755.5,181.0 1756.9,186.4C1758.4,191.7 1759.9,197.5 1761.4,200.8C1762.8,204.0 1764.3,205.3 1765.8,205.9C1767.3,206.4 1768.8,204.5 1770.2,204.1C1771.7,203.7 1773.2,202.9 1774.7,203.4C1776.1,204.0 1777.1,205.3 1779.1,207.4C1781.1,209.6 1784.3,213.6 1786.9,216.3C1789.4,219.0 1791.5,221.4 1794.6,223.6C1797.7,225.8 1802.0,227.9 1805.7,229.6C1809.4,231.3 1812.7,232.2 1816.8,234.0C1820.8,235.9 1827.1,240.1 1830.1,240.7C1833.0,241.2 1833.4,240.5 1834.5,237.4C1835.6,234.2 1836.0,229.6 1836.7,221.8C1837.5,214.1 1838.2,201.2 1838.9,190.8C1839.7,180.5 1840.3,169.2 1841.2,159.8C1842.0,150.4 1843.4,138.5 1843.8,134.3" class="w" stroke-width="1.7"/>
<path d="M1050.6,463.7C1051.6,463.1 1054.3,460.9 1056.6,460.4C1058.9,459.8 1061.6,459.4 1064.4,460.4C1067.1,461.3 1069.9,463.7 1073.2,465.9C1076.6,468.2 1080.3,472.5 1084.3,473.9C1088.4,475.3 1094.3,473.9 1097.6,474.3C1100.9,474.8 1101.7,475.4 1104.3,476.5C1106.9,477.7 1109.8,479.6 1113.1,481.4C1116.5,483.2 1120.5,485.5 1124.2,487.2C1127.9,488.9 1132.0,490.4 1135.3,491.6C1138.6,492.8 1141.4,493.5 1144.2,494.3C1146.9,495.1 1149.9,496.9 1151.9,496.5C1154.0,496.1 1154.9,495.4 1156.4,492.1C1157.8,488.7 1159.3,480.6 1160.8,476.5C1162.3,472.5 1163.4,469.6 1165.2,467.7C1167.1,465.8 1169.5,464.9 1171.9,465.0C1174.3,465.1 1176.9,466.6 1179.6,468.1C1182.4,469.6 1185.5,471.7 1188.5,473.9C1191.4,476.0 1194.8,480.0 1197.4,481.0C1199.9,482.0 1201.6,480.3 1204.0,479.9C1206.4,479.4 1209.2,478.1 1211.8,478.1C1214.3,478.1 1216.8,478.8 1219.5,479.9C1222.3,480.9 1225.1,482.7 1228.4,484.3C1231.7,485.9 1235.8,488.0 1239.5,489.4C1243.2,490.8 1247.1,491.7 1250.5,492.7C1254.0,493.8 1257.9,495.9 1260.1,495.8C1262.3,495.7 1262.5,495.3 1263.8,492.1C1265.2,488.8 1266.8,480.8 1268.3,476.5C1269.8,472.3 1271.1,468.8 1272.7,466.6C1274.4,464.4 1276.0,463.4 1278.3,463.2C1280.5,463.1 1283.2,464.2 1286.0,465.5C1288.8,466.8 1291.6,468.5 1294.9,471.0C1298.2,473.5 1303.0,479.3 1306.0,480.5C1308.9,481.7 1310.2,478.7 1312.6,478.1C1315.0,477.5 1317.8,476.9 1320.4,477.0C1322.9,477.1 1325.0,477.5 1328.1,478.8C1331.3,480.0 1335.5,482.7 1339.2,484.3C1342.9,485.9 1346.4,486.7 1350.3,488.1C1354.2,489.5 1359.7,492.8 1362.5,492.7C1365.2,492.6 1365.4,491.2 1366.9,487.6C1368.4,484.0 1369.7,475.4 1371.3,471.0C1373.0,466.6 1374.8,463.1 1376.9,461.0C1378.9,458.9 1380.9,458.4 1383.5,458.4C1386.1,458.4 1389.4,459.6 1392.4,461.0C1395.3,462.5 1398.1,465.0 1401.3,467.2C1404.4,469.5 1407.9,473.3 1411.2,474.3C1414.6,475.4 1418.1,473.5 1421.2,473.7C1424.3,473.8 1427.1,474.3 1430.1,475.4C1433.0,476.6 1435.6,479.1 1438.9,480.5C1442.3,482.0 1446.8,483.1 1450.0,484.3C1453.1,485.5 1454.9,486.6 1457.7,487.6C1460.6,488.6 1464.8,490.7 1467.0,490.3C1469.3,489.9 1469.6,488.6 1471.0,485.4C1472.4,482.2 1474.0,474.9 1475.5,471.0C1476.9,467.1 1478.0,464.3 1479.9,462.1C1481.7,460.0 1484.0,458.3 1486.5,458.1C1489.1,458.0 1492.1,460.0 1495.4,461.5C1498.7,463.0 1503.0,465.4 1506.5,467.2C1510.0,469.1 1512.8,472.0 1516.5,472.8C1520.2,473.5 1525.1,471.5 1528.7,471.7C1532.2,471.9 1534.2,472.6 1537.5,473.9C1540.8,475.1 1544.9,477.5 1548.6,479.2C1552.3,480.9 1556.0,482.3 1559.7,483.9C1563.4,485.4 1568.2,488.4 1570.8,488.3C1573.3,488.2 1573.7,486.3 1575.2,483.2C1576.7,480.1 1578.2,473.5 1579.6,469.9C1581.1,466.3 1582.0,463.7 1584.1,461.7C1586.1,459.7 1589.2,458.4 1591.8,458.1C1594.4,457.9 1596.8,458.9 1599.6,459.9C1602.3,461.0 1605.1,462.4 1608.4,464.4C1611.8,466.3 1615.8,470.4 1619.5,471.7C1623.2,472.9 1627.3,471.2 1630.6,471.7C1633.9,472.1 1636.1,473.0 1639.5,474.3C1642.8,475.7 1646.9,478.2 1650.5,479.9C1654.2,481.5 1657.3,482.8 1661.6,484.3C1666.0,485.8 1673.4,488.9 1676.7,488.7C1680.0,488.5 1680.0,486.3 1681.6,483.2C1683.1,480.1 1684.5,473.4 1686.0,469.9C1687.5,466.4 1688.6,464.0 1690.4,462.1C1692.3,460.3 1694.5,459.1 1697.1,458.8C1699.7,458.6 1702.6,459.6 1706.0,460.6C1709.3,461.6 1713.7,462.9 1717.0,465.0C1720.4,467.1 1722.6,471.7 1725.9,473.2C1729.2,474.7 1733.7,473.5 1737.0,473.9C1740.3,474.3 1742.5,474.3 1745.9,475.4C1749.2,476.6 1753.2,479.3 1756.9,481.0C1760.6,482.6 1764.3,484.2 1768.0,485.4C1771.7,486.6 1775.8,487.3 1779.1,488.1C1782.3,488.8 1785.3,490.5 1787.5,489.8C1789.7,489.2 1790.8,487.6 1792.4,484.3C1793.9,481.0 1795.3,473.6 1796.8,469.9C1798.3,466.2 1799.4,464.0 1801.3,462.1C1803.1,460.3 1805.0,459.1 1807.9,458.8C1810.9,458.6 1815.7,459.7 1819.0,460.6C1822.3,461.5 1824.9,462.5 1827.9,464.4C1830.8,466.2 1833.8,470.2 1836.7,471.4C1839.7,472.7 1844.1,472.0 1845.6,472.1" class="w" stroke-width="2.0"/>
<path d="M1056.0,706.4L1056.8,705.4L1057.9,706.3L1059.1,705.5L1060.6,706.6L1062.1,705.7L1063.7,706.7L1065.2,705.5L1066.6,706.3L1067.8,705.3L1069.0,705.8L1070.2,704.6L1071.4,705.2L1072.6,703.9L1073.8,704.2L1075.1,702.9L1076.3,703.5L1077.7,702.4L1078.8,703.0L1079.9,701.7L1081.1,702.6L1082.3,701.2L1083.4,702.0L1084.7,700.8L1085.9,701.7L1087.1,700.3L1088.4,701.1L1089.7,700.0L1091.0,700.9L1092.2,699.7L1093.4,700.5L1094.6,699.3L1095.9,700.3L1097.2,699.2L1098.5,700.1L1099.8,699.1L1101.1,700.0L1102.4,698.9L1103.7,699.9L1105.1,698.8L1106.5,699.6L1107.7,698.8L1108.9,699.5L1110.1,698.6L1111.4,699.5L1112.7,698.6L1113.9,699.4L1115.2,698.5L1116.5,699.4L1117.8,698.6L1119.1,699.6L1120.4,698.4L1121.7,699.4L1122.9,698.5L1124.2,699.4L1125.5,698.6L1126.8,699.5L1128.0,698.7L1129.3,699.6L1130.6,698.8L1131.8,699.8L1133.1,698.8L1134.4,700.0L1135.6,699.0L1136.9,700.1L1138.2,699.1L1139.4,700.1L1140.7,699.3L1142.0,700.3L1143.2,699.4L1144.5,700.5L1145.7,699.8L1147.0,700.9L1148.3,700.0L1149.5,700.9L1150.8,700.1L1152.1,701.4L1153.3,700.5L1154.6,701.7L1155.9,700.7L1157.1,701.8L1158.4,701.0L1159.7,702.1L1161.0,701.2L1162.3,702.5L1163.6,701.7L1164.9,702.9L1166.2,702.0L1167.5,703.2L1168.8,702.6L1170.1,703.7L1171.4,702.9L1172.7,703.8L1173.9,703.1L1175.1,704.1L1176.3,703.2L1177.4,704.1L1178.8,703.2L1180.1,704.0L1181.3,702.8L1182.5,703.6L1183.6,702.5L1184.8,703.1L1185.9,701.7L1187.0,702.4L1188.2,701.2L1189.4,701.7L1190.7,700.6L1191.8,701.2L1193.0,700.0L1194.1,700.5L1195.3,699.2L1196.5,700.0L1197.7,698.6L1198.9,699.2L1200.2,697.8L1201.4,698.5L1202.6,697.4L1203.8,697.9L1205.0,696.9L1206.2,697.6L1207.5,696.3L1208.8,697.2L1210.1,696.0L1211.3,696.8L1212.6,695.6L1213.8,696.5L1215.1,695.5L1216.4,696.2L1217.7,695.2L1219.0,696.0L1220.4,695.2L1221.7,695.9L1222.9,694.9L1224.2,695.7L1225.5,694.9L1226.8,695.7L1228.1,694.7L1229.4,695.6L1230.7,694.6L1232.1,695.6L1233.4,694.7L1234.7,695.6L1235.9,694.6L1237.1,695.7L1238.3,694.6L1239.5,695.4L1240.8,694.5L1242.1,695.5L1243.3,694.4L1244.4,695.3L1245.6,694.4L1246.7,695.4L1247.8,694.3L1248.9,695.2L1250.1,694.3L1251.4,695.3L1252.8,694.4L1253.9,695.3L1255.1,694.5L1256.4,695.4L1257.6,694.6L1259.0,695.5L1260.3,694.6L1261.6,695.7L1263.0,694.9L1264.3,696.0L1265.6,695.1L1266.9,696.0L1268.2,695.3L1269.4,696.4L1270.5,695.5L1271.9,696.5L1273.2,695.6L1274.4,696.7L1275.7,695.9L1276.8,696.9L1278.0,696.1L1279.1,697.1L1280.3,696.3L1281.4,697.5L1282.6,696.6L1283.8,697.7L1285.0,696.9L1286.3,698.1L1287.5,697.2L1288.8,698.3L1290.1,697.7L1291.3,698.7L1292.6,697.9L1293.8,699.2L1294.9,698.3L1296.0,699.3L1297.1,698.2L1298.6,699.2L1299.8,698.2L1301.0,699.0L1302.1,697.7L1303.2,698.3L1304.5,697.1L1306.0,697.7L1307.0,696.6L1308.1,697.1L1309.3,695.8L1310.5,696.6L1311.7,695.2L1313.0,695.8L1314.2,694.4L1315.5,694.9L1316.8,693.6L1318.0,694.4L1319.3,693.1L1320.4,693.9L1321.6,692.9L1322.8,693.6L1323.9,692.7L1325.1,693.4L1326.2,692.5L1327.4,693.2L1328.6,692.4L1329.9,693.3L1331.2,692.2L1332.6,693.0L1333.7,692.1L1334.9,692.9L1336.1,691.9L1337.3,693.0L1338.6,692.0L1339.8,693.0L1341.1,692.0L1342.5,692.8L1343.8,691.8L1345.1,692.9L1346.4,691.9L1347.7,692.8L1349.0,691.9L1350.3,692.9L1351.6,691.9L1352.8,692.8L1354.1,691.8L1355.3,693.1L1356.6,692.1L1357.9,693.0L1359.1,692.1L1360.4,693.2L1361.7,692.2L1362.9,693.2L1364.2,692.4L1365.5,693.3L1366.7,692.4L1368.0,693.5L1369.3,692.7L1370.5,693.6L1371.8,692.7L1373.1,693.9L1374.3,693.0L1375.6,693.9L1376.9,693.1L1378.1,694.3L1379.4,693.4L1380.7,694.5L1381.9,693.6L1383.2,694.5L1384.5,693.7L1385.7,694.9L1387.0,694.0L1388.3,695.1L1389.6,694.2L1390.9,695.3L1392.3,694.3L1393.6,695.6L1394.9,694.7L1396.2,695.7L1397.5,694.8L1398.7,695.8L1400.0,695.1L1401.2,696.1L1402.3,695.4L1403.5,696.3L1404.9,695.6L1406.2,696.8L1407.5,695.9L1408.8,697.0L1410.1,696.2L1411.3,697.3L1412.5,696.6L1413.6,697.8L1414.7,697.0L1415.7,697.9L1416.8,697.2L1418.3,698.4L1419.6,697.6L1420.8,698.6L1421.9,697.7L1423.1,698.8L1424.3,697.8L1425.6,698.8L1426.8,697.9L1427.9,698.5L1429.1,697.5L1430.3,698.1L1431.5,696.8L1432.8,697.6L1434.1,696.5L1435.4,697.2L1436.7,696.1L1437.8,696.9L1439.0,695.8L1440.1,696.8L1441.2,695.8L1442.4,696.7L1443.6,695.7L1444.8,696.5L1446.1,695.5L1447.3,696.5L1448.6,695.4L1450.0,696.5L1451.1,695.3L1452.4,696.4L1453.6,695.5L1454.9,696.5L1456.2,695.4L1457.5,696.4L1458.8,695.6L1460.1,696.5L1461.5,695.5L1462.8,696.6L1464.1,695.5L1465.3,696.5L1466.6,695.7L1467.9,696.6L1469.2,695.7L1470.4,696.7L1471.7,695.6L1472.9,696.5L1474.1,695.5L1475.4,696.6L1476.7,695.6L1477.9,696.5L1479.3,695.5L1480.7,696.6L1482.1,695.6L1483.2,696.8L1484.4,695.8L1485.6,696.9L1486.8,696.0L1488.1,697.2L1489.4,696.3L1490.6,697.5L1491.9,696.7L1493.2,697.8L1494.5,697.0L1495.8,698.1L1497.1,697.2L1498.4,698.4L1499.6,697.7L1500.9,698.6L1502.1,697.9L1503.4,699.1L1504.7,698.2L1506.0,699.2L1507.3,698.5L1508.6,699.5L1509.9,698.9L1511.2,700.0L1512.5,699.1L1513.7,700.4L1514.9,699.6L1516.2,700.6L1517.4,699.7L1518.6,700.9L1519.8,700.0L1521.2,701.1L1522.5,700.4L1523.9,701.4L1525.2,700.6L1526.5,701.9L1527.8,700.8L1529.1,702.0L1530.4,701.1L1531.6,702.3L1532.9,701.4L1534.1,702.5L1535.3,701.5L1536.6,702.7L1537.9,701.9L1539.1,702.9L1540.4,702.2L1541.6,703.3L1542.8,702.3L1544.0,703.6L1545.2,702.7L1546.3,703.7L1547.5,702.7L1548.6,703.7L1549.9,702.8L1551.2,703.4L1552.4,702.4L1553.6,703.2L1554.7,702.1L1555.9,702.7L1557.1,701.6L1558.4,702.3L1559.7,701.2L1560.8,702.0L1561.8,700.9L1562.9,701.8L1564.0,700.5L1565.1,701.4L1566.2,700.3L1567.4,701.0L1568.7,699.9L1570.0,700.7L1571.4,699.8L1573.0,700.6L1574.0,699.6L1575.1,700.5L1576.2,699.6L1577.3,700.6L1578.5,699.5L1579.7,700.4L1581.0,699.6L1582.2,700.5L1583.5,699.6L1584.8,700.4L1586.1,699.6L1587.4,700.4L1588.7,699.6L1590.0,700.6L1591.3,699.6L1592.6,700.5L1593.9,699.6L1595.1,700.5L1596.4,699.8L1597.6,700.6L1598.9,699.6L1600.2,700.7L1601.4,699.8L1602.7,700.7L1604.0,699.8L1605.2,700.7L1606.5,699.8L1607.8,700.8L1609.0,699.9L1610.2,700.9L1611.5,700.0L1612.7,700.8L1613.9,700.0L1615.0,700.9L1616.2,700.1L1617.3,701.0L1618.7,700.1L1620.1,701.1L1621.4,700.3L1622.7,701.3L1624.0,700.2L1625.2,701.4L1626.4,700.5L1627.7,701.5L1628.9,700.6L1630.1,701.8L1631.3,700.9L1632.5,701.9L1633.8,701.0L1635.0,702.1L1636.3,701.3L1637.6,702.3L1638.8,701.6L1640.1,702.9L1641.4,702.1L1642.6,703.3L1643.9,702.4L1645.2,703.5L1646.4,702.8L1647.7,704.1L1649.0,703.3L1650.2,704.4L1651.5,703.8L1652.8,704.9L1654.0,704.0L1655.3,705.1L1656.6,704.3L1658.0,705.4L1659.3,704.6L1660.6,705.8L1661.9,704.9L1663.2,706.1L1664.5,705.3L1665.8,706.4L1667.0,705.4L1668.2,706.4L1669.4,705.6L1670.5,706.6L1671.9,705.6L1673.2,706.5L1674.4,705.5L1675.6,706.4L1676.7,705.2L1677.8,706.1L1679.0,705.0L1680.1,705.8L1681.3,704.9L1682.5,705.7L1683.8,704.6L1685.0,705.5L1686.2,704.4L1687.5,705.2L1688.7,704.2L1690.0,705.0L1691.3,703.9L1692.6,704.8L1693.9,703.7L1695.2,704.6L1696.6,703.5L1697.9,704.4L1699.3,703.5L1700.5,704.3L1701.7,703.5L1703.0,704.3L1704.3,703.5L1705.6,704.4L1706.9,703.5L1708.2,704.6L1709.5,703.6L1710.8,704.6L1712.1,703.6L1713.3,704.7L1714.6,703.9L1715.8,704.7L1717.0,703.8L1718.4,704.9L1719.7,704.0L1721.0,704.9L1722.3,704.1L1723.5,705.0L1724.8,704.1L1726.0,705.0L1727.3,704.2L1728.6,705.2L1729.9,704.4L1731.2,705.5L1732.6,704.4L1733.8,705.5L1735.0,704.6L1736.2,705.8L1737.5,704.8L1738.7,705.9L1740.0,705.2L1741.3,706.3L1742.6,705.3L1743.9,706.3L1745.2,705.6L1746.4,706.5L1747.7,705.8L1749.0,706.9L1750.3,706.0L1751.6,707.0L1752.9,706.3L1754.2,707.5L1755.5,706.5L1756.8,707.6L1758.1,706.8L1759.4,707.9L1760.7,707.2L1762.0,708.1L1763.3,707.3L1764.5,708.4L1765.7,707.6L1766.9,708.8L1768.0,707.9L1769.4,709.0L1770.7,708.0L1771.9,709.0L1773.1,708.3L1774.2,709.4L1775.4,708.4L1776.5,709.5L1777.6,708.7L1778.8,709.8L1780.0,709.0L1781.3,709.9L1782.5,709.1L1783.8,710.2L1785.1,709.3L1786.5,710.5L1787.8,709.6L1789.2,710.7L1790.6,709.9L1791.9,710.9L1793.2,710.0L1794.5,711.1L1795.7,710.0L1796.8,711.0L1798.2,709.9L1799.5,710.7L1800.8,709.7L1801.9,710.5L1803.1,709.1L1804.2,709.9L1805.4,708.6L1806.6,709.6L1807.9,708.2L1809.0,709.1L1810.2,707.8L1811.4,708.7L1812.6,707.6L1813.8,708.2L1815.0,707.2L1816.3,708.0L1817.5,706.9L1818.8,707.7L1820.0,706.7L1821.2,707.6L1822.4,706.5L1823.7,707.5L1824.9,706.4L1826.1,707.3L1827.4,706.6L1828.6,707.5L1829.8,706.6L1831.0,707.8L1832.2,706.9L1833.4,707.9L1834.5,707.0L1835.9,708.1L1837.3,707.1L1838.8,708.2L1840.2,707.2L1841.5,708.5L1842.8,707.5L1843.9,708.7L1844.9,707.8L1845.6,708.9" class="w" stroke-width="2.8"/>
<path d="M1060.4,988.1L1060.9,986.5L1061.7,986.7L1062.5,984.6L1063.5,984.6L1064.5,982.4L1065.6,982.4L1066.6,980.5L1067.5,980.8L1068.4,978.8L1069.3,978.9L1070.2,976.9L1071.2,977.2L1072.2,975.4L1073.3,975.8L1074.4,974.1L1075.5,975.0L1076.8,973.9L1078.1,975.1L1079.4,974.1L1080.7,975.3L1082.0,974.6L1083.2,975.8L1084.3,974.8L1085.9,976.4L1087.2,975.6L1088.4,977.3L1089.6,976.7L1091.0,978.4L1092.2,977.4L1093.6,979.1L1094.9,978.5L1096.3,980.1L1097.6,979.1L1098.7,980.4L1100.1,979.1L1101.3,979.6L1102.6,977.6L1104.3,978.3L1105.3,977.1L1106.4,978.1L1107.6,977.0L1108.9,978.0L1110.3,977.0L1111.6,978.2L1112.9,977.2L1114.2,978.3L1115.4,977.1L1116.7,978.2L1118.0,976.9L1119.2,977.9L1120.4,976.7L1121.6,977.5L1122.9,976.4L1124.2,977.7L1125.3,976.6L1126.5,977.7L1127.7,977.0L1128.9,978.3L1130.1,977.3L1131.4,978.9L1132.6,977.8L1134.0,979.1L1135.3,978.1L1136.4,979.4L1137.6,978.4L1138.8,979.6L1140.1,978.7L1141.3,979.9L1142.6,979.0L1143.8,980.2L1145.1,979.1L1146.3,980.3L1147.5,979.4L1148.6,980.5L1149.9,979.6L1151.2,980.8L1152.5,979.6L1153.7,981.1L1155.0,980.1L1156.2,981.3L1157.3,980.2L1158.5,981.4L1159.7,980.4L1161.0,981.7L1162.4,980.7L1163.7,982.0L1165.0,980.8L1166.3,982.1L1167.5,981.0L1168.6,981.8L1169.7,980.5L1170.8,981.0L1171.8,978.9L1172.6,979.0L1173.4,976.9L1174.3,977.1L1175.2,975.0L1176.3,975.1L1177.4,973.1L1178.6,973.6L1179.8,971.6L1180.9,972.1L1181.8,970.5L1183.3,970.9L1184.6,969.3L1186.3,970.3L1187.3,969.5L1188.4,970.8L1189.6,970.1L1191.0,971.7L1192.3,971.0L1193.7,972.4L1195.1,971.5L1196.3,972.9L1197.5,972.2L1198.7,973.4L1199.9,972.6L1201.2,974.0L1202.4,973.0L1203.7,974.4L1205.0,973.6L1206.2,974.8L1207.5,974.0L1208.7,975.6L1209.9,974.7L1211.1,976.3L1212.4,975.4L1213.6,977.0L1214.8,976.1L1216.1,977.6L1217.3,976.7L1218.5,978.1L1219.8,977.1L1221.0,978.3L1222.2,977.3L1223.5,978.4L1224.7,977.4L1225.9,978.8L1227.2,977.7L1228.4,979.0L1229.6,977.9L1230.8,979.2L1232.1,978.0L1233.3,979.0L1234.5,977.9L1235.8,979.0L1237.0,978.1L1238.2,979.3L1239.5,978.2L1240.7,979.5L1241.9,978.5L1243.2,979.7L1244.4,978.8L1245.6,980.2L1246.9,979.4L1248.1,980.6L1249.3,979.7L1250.5,981.0L1251.8,980.0L1253.0,981.2L1254.2,980.2L1255.5,981.4L1256.7,980.5L1257.9,981.8L1259.2,980.7L1260.4,982.1L1261.6,981.0L1262.9,982.4L1264.2,981.7L1265.5,983.2L1266.8,982.3L1268.1,983.6L1269.3,982.9L1270.5,984.1L1271.7,983.1L1272.7,984.1L1274.1,982.6L1275.3,983.2L1276.3,981.0L1277.3,981.2L1278.3,979.2L1279.4,979.4L1280.5,977.4L1281.6,977.6L1282.7,975.4L1283.8,975.6L1284.9,973.7L1286.0,974.4L1287.3,972.6L1288.6,973.2L1289.8,971.8L1291.2,972.9L1292.7,971.7L1293.8,972.8L1295.0,971.6L1296.3,972.7L1297.6,971.9L1298.9,973.1L1300.2,972.0L1301.5,973.4L1302.8,972.3L1304.1,973.7L1305.3,972.7L1306.6,974.3L1307.9,973.3L1309.1,974.7L1310.4,973.8L1311.7,975.2L1312.9,974.3L1314.2,976.0L1315.5,975.1L1316.7,976.5L1318.0,975.7L1319.3,977.0L1320.5,976.4L1321.7,977.8L1322.9,977.0L1324.2,978.6L1325.4,977.8L1326.7,979.0L1328.1,978.3L1329.3,979.5L1330.4,978.4L1331.7,979.4L1332.9,978.3L1334.2,979.4L1335.4,978.1L1336.7,979.2L1338.0,978.2L1339.2,979.2L1340.4,978.2L1341.7,979.6L1342.9,978.6L1344.1,979.7L1345.4,978.7L1346.6,980.1L1347.8,979.1L1349.1,980.3L1350.3,979.2L1351.5,980.7L1352.8,979.6L1354.1,980.9L1355.3,979.8L1356.6,981.1L1357.8,980.1L1359.1,981.4L1360.2,980.4L1361.4,981.9L1362.8,980.7L1364.1,982.1L1365.4,981.3L1366.6,982.7L1367.8,981.8L1369.0,983.2L1370.2,982.3L1371.6,983.5L1372.9,982.9L1374.2,984.2L1375.5,983.5L1376.8,984.5L1378.0,983.2L1379.1,984.1L1380.2,982.0L1381.3,982.1L1382.4,980.1L1383.5,980.1L1384.6,978.3L1385.7,978.7L1386.8,976.8L1387.9,977.2L1389.1,975.5L1390.2,975.8L1391.3,974.1L1392.4,974.9L1393.8,973.3L1395.0,974.4L1396.3,973.0L1397.6,974.4L1399.0,973.1L1400.2,974.3L1401.4,973.2L1402.7,974.3L1404.0,973.5L1405.3,974.6L1406.6,973.6L1407.9,975.0L1409.2,973.9L1410.4,975.2L1411.7,974.1L1413.0,975.4L1414.2,974.5L1415.5,975.7L1416.8,974.8L1418.0,976.3L1419.3,975.6L1420.6,977.2L1421.8,976.3L1423.1,977.8L1424.4,977.1L1425.6,978.7L1426.9,978.1L1428.2,979.3L1429.4,978.6L1430.7,980.2L1432.0,979.4L1433.2,980.7L1434.5,979.7L1435.8,980.9L1437.1,979.9L1438.4,981.1L1439.7,979.7L1441.0,981.1L1442.2,979.7L1443.4,980.8L1444.7,979.9L1445.9,980.9L1447.0,980.1L1448.3,981.4L1450.0,980.6L1451.0,981.7L1452.1,980.7L1453.3,982.0L1454.5,981.2L1455.8,982.5L1457.1,981.6L1458.4,983.0L1459.7,982.1L1461.0,983.5L1462.2,982.7L1463.4,984.1L1464.7,983.1L1465.9,984.6L1467.1,983.8L1468.3,985.2L1469.5,984.5L1470.7,986.0L1472.0,985.0L1473.2,986.4L1474.4,985.4L1475.7,986.8L1477.0,986.0L1478.4,987.4L1479.7,986.3L1481.0,987.5L1482.2,986.7L1483.4,987.6L1484.5,986.5L1485.4,987.4L1486.7,986.0L1487.7,986.2L1488.4,984.0L1489.1,984.3L1489.9,982.0L1491.0,982.3L1491.9,980.5L1493.0,980.9L1494.1,979.1L1495.2,979.7L1496.4,977.8L1497.5,978.5L1498.7,977.1L1499.8,977.8L1501.1,976.7L1502.4,977.6L1503.6,976.7L1504.9,978.2L1506.2,977.5L1507.4,978.8L1508.7,977.8L1510.0,978.9L1511.2,977.8L1512.5,978.9L1513.8,978.0L1515.0,979.0L1516.3,978.1L1517.6,979.5L1518.7,978.7L1519.8,980.2L1521.0,979.5L1522.1,981.2L1523.3,980.8L1524.4,982.3L1525.4,981.8L1526.4,983.2L1527.9,982.1L1529.1,983.0L1530.4,981.6L1531.6,982.3L1533.1,981.1L1534.2,982.4L1535.5,981.7L1536.7,983.2L1538.0,982.4L1539.4,983.8L1540.7,983.0L1542.0,984.3L1543.2,983.4L1544.4,984.5L1545.6,983.4L1546.9,984.5L1548.1,983.3L1549.4,984.3L1550.8,983.3L1551.9,984.4L1553.1,983.7L1554.3,985.1L1555.6,984.1L1556.9,985.6L1558.1,984.7L1559.4,986.1L1560.7,985.2L1561.9,986.4L1563.1,985.4L1564.3,986.5L1565.5,985.5L1566.7,986.3L1567.9,985.2L1569.1,986.4L1570.4,985.2L1571.7,986.2L1573.0,985.4L1574.1,986.6L1575.3,985.7L1576.5,987.2L1577.7,986.5L1579.0,987.9L1580.3,987.1L1581.5,988.6L1582.7,987.8L1584.0,989.4L1585.1,988.5L1586.3,989.8L1587.6,988.7L1589.0,989.9L1590.3,988.9L1591.6,990.1L1592.9,988.9L1594.1,990.1L1595.2,988.7L1596.3,989.7L1597.4,988.3L1598.5,988.6L1599.6,986.8L1600.5,987.0L1601.4,984.8L1602.2,984.7L1603.1,982.7L1604.0,983.2L1605.3,981.2L1606.6,981.6L1607.8,980.0L1609.2,980.7L1610.7,979.4L1611.8,980.4L1613.0,979.3L1614.3,980.8L1615.6,979.9L1616.9,981.0L1618.2,980.2L1619.5,981.6L1620.8,980.5L1622.1,981.8L1623.4,980.8L1624.7,982.1L1626.0,981.2L1627.2,982.3L1628.4,981.4L1629.6,983.2L1630.8,982.6L1631.8,984.6L1632.9,984.0L1634.0,985.6L1635.0,984.8L1636.3,986.1L1637.5,984.8L1638.7,985.6L1640.1,984.4L1641.7,985.6L1642.7,984.6L1643.8,985.9L1645.0,984.9L1646.3,986.1L1647.6,985.4L1648.9,986.8L1650.2,985.8L1651.5,987.2L1652.8,986.3L1654.0,987.5L1655.2,986.2L1656.5,987.6L1657.7,986.3L1658.9,987.6L1660.2,986.5L1661.4,987.6L1662.6,986.5L1663.8,987.8L1665.1,986.9L1666.3,988.2L1667.5,987.2L1668.8,988.6L1670.0,987.7L1671.2,989.1L1672.5,988.3L1673.7,989.5L1674.9,988.6L1676.1,990.0L1677.3,988.8L1678.5,990.1L1679.7,989.0L1680.9,990.1L1682.2,989.0L1683.4,990.3L1684.7,989.1L1686.0,990.5L1687.1,989.6L1688.3,991.0L1689.6,990.0L1690.8,991.5L1692.1,990.9L1693.4,992.2L1694.6,991.6L1695.9,992.8L1697.1,992.3L1698.2,993.5L1699.3,992.7L1700.7,993.9L1702.1,993.0L1703.4,994.6L1704.6,993.5L1705.9,994.8L1707.0,993.6L1708.2,994.8L1709.3,993.4L1710.4,994.0L1711.4,992.3L1712.4,992.5L1713.3,990.5L1714.2,990.5L1715.2,988.7L1716.1,989.0L1717.0,987.2L1718.1,987.4L1719.2,985.9L1720.2,986.4L1721.3,984.5L1722.4,985.5L1723.6,983.9L1724.8,984.9L1725.9,983.7L1727.2,984.8L1728.4,984.2L1729.7,985.4L1731.0,984.8L1732.3,986.1L1733.6,985.1L1734.8,986.6L1736.1,985.8L1737.5,987.2L1738.9,986.4L1740.2,987.6L1741.5,987.0L1742.6,988.2L1743.6,987.5L1744.9,989.4L1745.7,989.0L1746.6,990.7L1748.1,990.0L1749.0,991.1L1750.0,989.9L1751.2,990.8L1752.4,989.5L1753.7,990.4L1755.0,989.0L1756.4,990.1L1757.8,988.7L1759.1,989.8L1760.3,988.7L1761.5,989.7L1762.7,988.8L1763.9,990.0L1765.2,989.1L1766.4,990.3L1767.7,989.2L1768.9,990.6L1770.1,989.6L1771.3,990.9L1772.4,990.0L1773.8,991.2L1775.1,990.4L1776.3,991.6L1777.5,990.5L1778.7,992.0L1779.9,991.0L1781.1,992.1L1782.3,991.4L1783.5,992.5L1784.8,991.6L1786.0,993.2L1787.2,992.4L1788.5,993.7L1789.7,993.0L1790.9,994.3L1792.1,993.3L1793.4,994.6L1794.6,993.7L1795.8,995.0L1797.1,993.8L1798.3,994.8L1799.5,993.6L1800.8,994.5L1802.0,993.3L1803.2,994.4L1804.5,993.2L1805.7,994.5L1806.9,993.4L1808.2,994.8L1809.4,993.9L1810.7,995.3L1811.9,994.6L1813.2,995.8L1814.4,995.2L1815.6,996.4L1816.8,995.5L1818.1,996.9L1819.4,995.7L1820.7,997.2L1822.0,995.9L1823.3,997.2L1824.5,995.9L1825.7,996.8L1826.7,995.6L1827.9,996.0L1828.9,994.1L1829.9,994.4L1830.8,992.5L1831.7,992.7L1832.5,990.6L1833.4,991.2L1834.6,989.0L1835.7,989.3L1836.9,987.5L1837.9,988.2L1838.9,986.7L1840.7,987.6L1842.3,986.7L1843.4,988.1" class="w" stroke-width="2.6"/>
<path d="M1056.6,1202.7C1058.3,1203.5 1063.1,1205.7 1066.6,1207.2C1070.1,1208.7 1074.4,1210.3 1077.7,1211.6C1081.0,1212.9 1083.6,1213.9 1086.5,1214.9C1089.5,1216.0 1093.2,1218.3 1095.4,1218.0C1097.6,1217.7 1098.4,1216.4 1099.8,1213.2C1101.3,1210.0 1102.8,1202.5 1104.3,1198.8C1105.8,1195.1 1107.0,1192.8 1108.7,1191.0C1110.4,1189.2 1112.0,1188.5 1114.2,1188.1C1116.5,1187.8 1119.2,1188.6 1122.0,1189.0C1124.8,1189.4 1128.5,1189.8 1130.9,1190.3C1133.3,1190.9 1134.4,1191.3 1136.4,1192.1C1138.4,1193.0 1139.9,1195.0 1143.1,1195.4C1146.2,1195.9 1151.7,1194.3 1155.2,1194.8C1158.8,1195.2 1160.8,1196.8 1164.1,1198.1C1167.4,1199.4 1171.5,1201.1 1175.2,1202.5C1178.9,1203.9 1183.0,1205.1 1186.3,1206.5C1189.6,1207.9 1192.7,1209.8 1195.1,1210.9C1197.5,1212.1 1199.0,1213.9 1200.7,1213.2C1202.3,1212.4 1203.5,1210.0 1205.1,1206.5C1206.8,1203.0 1208.8,1195.8 1210.7,1192.1C1212.5,1188.4 1214.3,1185.9 1216.2,1184.4C1218.0,1182.8 1219.3,1182.8 1221.7,1182.8C1224.1,1182.8 1228.2,1184.0 1230.6,1184.4C1233.0,1184.7 1234.3,1184.4 1236.1,1185.0C1238.0,1185.6 1239.8,1187.2 1241.7,1188.1C1243.5,1189.0 1243.9,1190.0 1247.2,1190.3C1250.5,1190.6 1258.1,1189.5 1261.6,1189.9C1265.1,1190.3 1265.3,1191.3 1268.3,1192.6C1271.2,1193.8 1275.3,1195.9 1279.4,1197.7C1283.4,1199.4 1288.4,1201.2 1292.7,1203.2C1296.9,1205.1 1302.1,1209.2 1304.8,1209.4C1307.6,1209.6 1307.8,1207.4 1309.3,1204.3C1310.8,1201.2 1312.1,1194.8 1313.7,1191.0C1315.4,1187.2 1317.4,1183.4 1319.3,1181.5C1321.1,1179.5 1322.2,1179.5 1324.8,1179.3C1327.4,1179.0 1332.0,1179.9 1334.8,1180.1C1337.5,1180.4 1339.2,1180.1 1341.4,1180.6C1343.6,1181.1 1346.0,1182.4 1348.1,1183.2C1350.1,1184.1 1350.8,1185.6 1353.6,1185.9C1356.4,1186.2 1361.5,1184.7 1364.7,1185.0C1367.8,1185.3 1369.3,1186.3 1372.4,1187.7C1375.6,1189.0 1379.1,1191.1 1383.5,1193.2C1388.0,1195.3 1394.4,1198.0 1399.0,1200.3C1403.7,1202.6 1408.5,1206.7 1411.2,1207.0C1414.0,1207.3 1414.2,1205.3 1415.7,1202.1C1417.1,1198.9 1418.4,1191.6 1420.1,1187.7C1421.8,1183.8 1423.8,1180.6 1425.6,1178.8C1427.5,1177.0 1429.0,1177.1 1431.2,1177.0C1433.4,1176.9 1435.8,1177.9 1438.9,1178.1C1442.1,1178.4 1447.2,1178.1 1450.0,1178.8C1452.7,1179.5 1453.7,1181.3 1455.5,1182.1C1457.4,1183.0 1458.5,1183.7 1461.1,1183.9C1463.6,1184.2 1468.3,1183.2 1471.0,1183.7C1473.8,1184.1 1474.7,1185.1 1477.7,1186.6C1480.6,1188.0 1484.7,1190.5 1488.8,1192.6C1492.8,1194.6 1498.0,1196.8 1502.1,1198.8C1506.1,1200.7 1510.0,1202.8 1513.1,1204.3C1516.3,1205.8 1518.9,1207.8 1520.9,1207.6C1522.9,1207.4 1523.9,1206.3 1525.3,1203.2C1526.8,1200.1 1528.3,1192.7 1529.8,1188.8C1531.2,1184.9 1532.5,1181.9 1534.2,1179.9C1535.9,1178.0 1537.3,1177.3 1539.7,1177.0C1542.1,1176.8 1545.6,1178.1 1548.6,1178.4C1551.6,1178.7 1554.3,1177.8 1557.5,1178.8C1560.6,1179.8 1563.7,1183.4 1567.4,1184.4C1571.1,1185.3 1576.5,1184.0 1579.6,1184.4C1582.8,1184.7 1583.0,1185.0 1586.3,1186.6C1589.6,1188.2 1595.1,1191.6 1599.6,1193.9C1604.0,1196.2 1608.8,1198.5 1612.9,1200.5C1616.9,1202.6 1620.6,1204.4 1624.0,1206.1C1627.3,1207.7 1630.6,1210.6 1632.8,1210.5C1635.0,1210.4 1635.8,1208.8 1637.3,1205.4C1638.7,1202.0 1640.0,1194.0 1641.7,1189.9C1643.3,1185.8 1645.6,1182.8 1647.2,1181.0C1648.9,1179.3 1649.6,1179.3 1651.7,1179.3C1653.7,1179.3 1656.6,1180.4 1659.4,1181.0C1662.2,1181.6 1665.3,1181.8 1668.3,1182.8C1671.2,1183.8 1673.8,1186.4 1677.1,1187.2C1680.5,1188.0 1685.3,1187.3 1688.2,1187.7C1691.2,1188.0 1691.9,1188.2 1694.9,1189.5C1697.8,1190.7 1701.9,1193.3 1706.0,1195.4C1710.0,1197.5 1714.5,1199.8 1719.3,1202.1C1724.1,1204.4 1730.0,1207.2 1734.8,1209.4C1739.6,1211.6 1745.1,1215.1 1748.1,1215.4C1751.0,1215.6 1751.0,1214.3 1752.5,1210.9C1754.0,1207.6 1755.5,1199.7 1756.9,1195.4C1758.4,1191.2 1759.7,1187.6 1761.4,1185.5C1763.0,1183.3 1764.7,1182.8 1766.9,1182.6C1769.1,1182.4 1771.9,1183.7 1774.7,1184.4C1777.4,1185.0 1780.6,1185.4 1783.5,1186.6C1786.5,1187.8 1789.1,1190.7 1792.4,1191.4C1795.7,1192.2 1800.2,1190.7 1803.5,1191.0C1806.8,1191.3 1808.6,1191.6 1812.3,1193.2C1816.0,1194.8 1820.5,1197.9 1825.6,1200.5C1830.8,1203.1 1840.4,1207.4 1843.4,1208.7" class="w" stroke-width="2.0"/>
<path d="M1058.8,1413.2L1059.2,1410.0L1059.7,1411.1L1060.2,1406.8L1060.8,1407.7L1061.5,1403.8L1062.2,1404.2L1062.7,1400.8L1063.3,1402.0L1063.9,1397.8L1064.5,1399.0L1065.1,1395.2L1065.8,1396.3L1066.6,1393.0L1067.7,1394.3L1069.0,1390.8L1070.3,1392.0L1071.7,1389.0L1073.2,1391.3L1074.6,1388.8L1076.0,1391.3L1077.5,1389.6L1079.1,1393.1L1080.6,1391.4L1082.1,1394.5L1083.4,1392.3L1084.6,1395.7L1085.9,1394.1L1087.2,1397.4L1088.4,1395.7L1089.7,1398.8L1091.0,1396.7L1092.5,1400.0L1093.9,1397.4L1095.4,1400.1L1096.9,1397.9L1098.4,1400.3L1099.8,1398.4L1101.3,1400.3L1102.8,1398.0L1104.3,1399.8L1105.8,1397.3L1107.2,1399.2L1108.7,1396.6L1110.2,1399.4L1111.6,1397.7L1113.0,1400.4L1114.5,1398.4L1116.0,1401.3L1117.6,1399.8L1118.9,1402.6L1120.2,1400.9L1121.6,1404.3L1123.0,1402.5L1124.4,1405.5L1125.8,1404.0L1127.3,1407.1L1128.7,1405.1L1130.1,1408.2L1131.5,1406.9L1132.9,1409.7L1134.3,1408.1L1135.7,1411.2L1137.1,1409.5L1138.5,1412.4L1139.7,1410.8L1141.1,1413.7L1142.5,1412.1L1143.7,1415.1L1145.0,1413.3L1146.2,1416.5L1147.4,1414.9L1148.6,1417.7L1150.0,1416.1L1151.4,1419.3L1152.8,1418.0L1154.1,1421.0L1155.3,1419.1L1156.4,1421.2L1157.4,1418.6L1158.3,1419.9L1159.1,1416.5L1159.9,1417.1L1160.8,1413.2L1161.3,1414.2L1161.7,1411.1L1162.2,1412.3L1162.7,1408.5L1163.2,1409.2L1163.7,1405.4L1164.3,1406.2L1164.8,1402.8L1165.3,1403.5L1165.8,1399.6L1166.3,1401.3L1166.9,1397.1L1167.5,1397.9L1168.1,1394.5L1168.7,1395.4L1169.3,1391.7L1169.9,1392.5L1170.6,1389.2L1171.2,1390.7L1171.9,1387.3L1173.1,1388.3L1174.3,1384.9L1175.6,1386.3L1177.0,1383.2L1178.5,1385.2L1179.8,1383.2L1181.1,1386.2L1182.5,1383.7L1184.0,1387.0L1185.5,1385.4L1187.0,1388.2L1188.5,1386.6L1189.8,1389.4L1191.2,1387.7L1192.7,1390.7L1194.1,1388.6L1195.5,1391.7L1196.9,1390.0L1198.3,1393.0L1199.6,1391.1L1201.2,1393.8L1202.7,1392.1L1204.1,1394.4L1205.6,1392.6L1207.0,1395.1L1208.4,1393.2L1209.9,1395.5L1211.4,1393.4L1212.9,1395.4L1214.3,1393.1L1215.8,1395.6L1217.3,1392.9L1218.8,1395.8L1220.3,1394.1L1221.7,1397.1L1223.2,1395.2L1224.7,1397.8L1226.2,1396.3L1227.4,1399.3L1228.6,1397.5L1229.9,1400.8L1231.1,1399.5L1232.3,1402.5L1233.7,1400.8L1235.0,1403.7L1236.3,1402.5L1237.7,1405.3L1239.1,1403.8L1240.6,1406.5L1242.0,1405.1L1243.5,1408.1L1244.8,1406.4L1246.1,1409.6L1247.5,1407.6L1248.9,1411.2L1250.2,1409.4L1251.5,1412.6L1252.8,1410.5L1253.9,1413.7L1255.0,1411.9L1256.6,1415.4L1258.0,1413.9L1259.2,1416.9L1260.5,1414.3L1261.6,1416.6L1262.8,1414.0L1263.9,1415.1L1265.0,1411.7L1266.1,1412.2L1266.5,1408.7L1266.9,1409.9L1267.4,1406.0L1267.8,1407.3L1268.2,1403.4L1268.5,1404.3L1268.9,1399.8L1269.3,1400.7L1269.7,1397.2L1270.1,1397.8L1270.5,1394.1L1271.0,1395.0L1271.5,1390.9L1272.0,1392.0L1272.5,1388.3L1273.0,1388.9L1273.5,1385.3L1273.9,1386.3L1274.4,1383.0L1274.9,1384.3L1275.9,1380.2L1276.9,1381.5L1277.9,1378.3L1279.4,1380.1L1280.6,1377.5L1282.0,1379.4L1283.5,1377.1L1285.1,1379.7L1286.7,1377.1L1288.2,1379.5L1289.7,1377.1L1291.3,1379.5L1292.8,1377.3L1294.3,1380.3L1295.7,1377.9L1297.1,1380.9L1298.6,1379.1L1299.9,1382.2L1301.2,1380.2L1302.4,1383.6L1303.7,1381.8L1305.0,1385.2L1306.3,1383.4L1307.6,1386.8L1308.9,1385.0L1310.4,1387.6L1311.7,1385.3L1313.2,1388.0L1314.7,1385.8L1316.2,1388.2L1317.8,1385.7L1319.3,1388.0L1320.7,1386.0L1322.1,1388.6L1323.5,1386.8L1325.0,1389.8L1326.5,1387.9L1328.1,1391.1L1329.3,1389.2L1330.4,1392.2L1331.7,1390.8L1332.9,1393.7L1334.2,1392.4L1335.4,1395.2L1336.7,1393.8L1338.0,1396.7L1339.2,1395.3L1340.4,1398.7L1341.7,1396.5L1343.0,1399.8L1344.2,1398.0L1345.5,1401.5L1346.8,1399.3L1348.0,1402.7L1349.1,1400.6L1350.3,1403.7L1351.7,1402.3L1353.1,1405.2L1354.5,1403.6L1355.8,1407.0L1357.0,1405.0L1358.1,1408.0L1359.1,1406.6L1360.9,1410.6L1362.2,1409.0L1363.6,1412.1L1364.9,1409.7L1366.4,1411.7L1367.8,1408.2L1369.1,1408.8L1369.6,1405.7L1370.1,1406.6L1370.5,1402.8L1371.0,1403.7L1371.4,1399.9L1371.8,1400.7L1372.3,1396.9L1372.7,1397.5L1373.1,1393.5L1373.6,1394.1L1374.0,1390.4L1374.3,1391.3L1374.7,1387.8L1375.1,1388.6L1375.5,1384.7L1375.9,1385.8L1376.3,1381.6L1376.7,1382.8L1377.1,1378.6L1377.5,1380.2L1378.0,1376.7L1378.8,1377.2L1379.6,1373.2L1380.5,1374.2L1381.4,1370.5L1382.4,1371.8L1383.5,1368.7L1384.8,1370.3L1386.2,1367.5L1387.8,1369.9L1389.3,1367.6L1390.9,1369.9L1392.4,1367.2L1393.9,1369.4L1395.3,1366.7L1396.8,1368.8L1398.3,1366.4L1399.8,1368.7L1401.3,1366.6L1402.5,1369.1L1403.8,1367.9L1405.1,1370.7L1406.3,1369.3L1407.6,1372.7L1408.9,1371.5L1410.1,1374.3L1411.4,1372.6L1412.7,1375.8L1413.9,1374.4L1415.2,1377.4L1416.5,1375.5L1417.7,1378.7L1419.0,1376.7L1420.5,1379.4L1422.0,1376.7L1423.6,1379.5L1425.1,1377.4L1426.5,1379.6L1427.9,1377.7L1429.3,1380.4L1430.6,1379.2L1431.8,1382.1L1433.1,1381.0L1434.5,1384.3L1435.5,1382.7L1436.6,1386.3L1437.8,1384.7L1438.9,1388.0L1440.1,1386.6L1441.3,1389.9L1442.4,1388.7L1443.4,1391.8L1444.8,1390.1L1446.0,1393.4L1447.2,1391.4L1448.5,1394.9L1450.0,1393.2L1451.1,1396.0L1452.2,1394.7L1453.5,1397.4L1454.8,1396.4L1456.1,1399.2L1457.4,1398.1L1458.7,1401.2L1459.9,1399.7L1461.2,1403.2L1462.4,1402.0L1463.7,1405.6L1464.9,1404.4L1466.1,1408.1L1467.2,1406.2L1468.3,1409.3L1469.3,1407.3L1470.8,1409.6L1472.0,1406.9L1473.1,1407.7L1474.4,1403.3L1474.8,1404.6L1475.3,1400.7L1475.9,1402.0L1476.4,1398.1L1476.9,1398.9L1477.4,1395.5L1477.9,1396.2L1478.5,1392.3L1478.9,1392.8L1479.4,1388.8L1479.9,1389.7L1480.3,1386.2L1480.8,1387.0L1481.2,1383.0L1481.5,1383.7L1481.9,1380.3L1482.3,1380.8L1482.7,1376.9L1483.1,1378.2L1483.5,1374.5L1483.9,1375.7L1484.3,1372.1L1485.2,1372.4L1486.0,1369.0L1486.9,1370.2L1487.8,1366.9L1488.8,1367.9L1489.9,1364.8L1491.3,1366.8L1492.9,1364.0L1494.5,1365.8L1496.1,1363.2L1497.6,1365.8L1499.4,1362.8L1501.0,1364.5L1502.6,1361.8L1504.3,1364.2L1505.6,1361.8L1507.0,1364.8L1508.3,1363.3L1509.7,1366.2L1510.9,1364.8L1512.1,1368.7L1513.1,1367.1L1514.1,1371.1L1515.2,1369.7L1516.5,1373.5L1517.9,1371.9L1519.4,1374.4L1520.9,1372.7L1522.6,1375.8L1524.2,1374.1L1525.4,1376.6L1526.7,1375.2L1527.9,1377.8L1529.2,1376.3L1530.5,1379.1L1531.8,1377.6L1533.1,1380.5L1534.2,1378.9L1535.2,1382.4L1536.3,1380.5L1537.4,1383.9L1538.5,1382.6L1539.6,1385.6L1540.7,1384.3L1542.0,1388.0L1543.1,1386.0L1544.3,1389.3L1545.5,1387.9L1546.7,1391.1L1548.0,1389.7L1549.3,1393.2L1550.5,1391.4L1551.8,1394.7L1553.0,1393.4L1554.3,1396.2L1555.5,1394.6L1556.8,1397.9L1558.1,1396.2L1559.3,1399.4L1560.6,1397.3L1561.8,1400.9L1563.0,1398.9L1564.1,1402.0L1565.5,1400.8L1566.9,1403.9L1568.2,1402.5L1569.5,1405.8L1570.8,1404.3L1571.9,1407.8L1573.0,1406.7L1574.3,1410.3L1575.4,1409.4L1576.5,1413.1L1577.5,1411.4L1578.5,1414.5L1579.6,1411.8L1580.8,1413.5L1581.9,1410.1L1583.0,1410.6L1584.1,1406.7L1584.5,1407.7L1585.0,1404.0L1585.5,1405.2L1585.9,1401.4L1586.3,1402.2L1586.8,1398.5L1587.2,1398.9L1587.6,1394.8L1588.1,1395.8L1588.5,1391.8L1588.9,1392.9L1589.3,1388.9L1589.7,1389.8L1590.1,1386.0L1590.4,1387.0L1590.8,1383.1L1591.2,1383.9L1591.6,1380.2L1592.1,1381.4L1592.5,1377.3L1592.9,1378.6L1593.7,1374.6L1594.5,1375.6L1595.3,1372.4L1596.2,1374.0L1597.3,1370.8L1598.5,1372.4L1599.7,1369.3L1601.1,1371.0L1602.5,1367.7L1604.1,1369.6L1605.6,1366.4L1607.1,1368.6L1608.4,1366.1L1610.2,1367.7L1611.8,1365.3L1613.4,1368.2L1614.8,1365.9L1616.2,1369.1L1617.4,1367.0L1618.5,1370.6L1619.5,1369.8L1620.6,1373.3L1621.7,1372.1L1622.8,1375.6L1623.8,1373.9L1624.9,1377.7L1626.0,1375.9L1627.1,1379.1L1628.4,1377.6L1629.7,1380.2L1631.2,1378.5L1632.7,1380.9L1634.2,1378.9L1635.7,1382.0L1637.3,1379.8L1638.5,1382.5L1639.7,1381.0L1640.9,1383.9L1642.2,1382.7L1643.4,1385.6L1644.7,1384.4L1646.1,1387.9L1647.1,1386.1L1648.2,1389.1L1649.3,1388.0L1650.4,1390.9L1651.5,1389.8L1652.7,1392.8L1653.8,1391.7L1654.9,1394.8L1656.1,1393.2L1657.2,1396.7L1658.4,1395.2L1659.7,1398.2L1660.9,1396.9L1662.1,1400.0L1663.4,1398.5L1664.6,1401.6L1665.8,1400.2L1667.0,1403.8L1668.3,1402.2L1669.5,1405.0L1670.7,1403.7L1672.0,1406.6L1673.2,1405.5L1674.4,1408.5L1675.7,1407.1L1676.9,1410.3L1678.1,1408.7L1679.4,1412.1L1680.5,1410.5L1681.7,1413.8L1682.9,1413.1L1684.1,1416.1L1685.3,1415.3L1686.5,1418.5L1687.6,1416.9L1688.7,1420.3L1689.6,1418.6L1690.4,1421.2L1692.0,1419.1L1693.1,1421.5L1693.9,1417.2L1694.9,1417.5L1695.2,1414.6L1695.6,1415.9L1696.0,1412.2L1696.3,1412.9L1696.7,1409.5L1697.0,1410.1L1697.4,1406.1L1697.7,1407.2L1698.1,1403.1L1698.5,1404.0L1698.9,1400.0L1699.3,1400.9L1699.7,1397.3L1700.2,1398.0L1700.6,1394.2L1701.1,1395.3L1701.6,1391.2L1702.1,1392.3L1702.6,1388.4L1703.0,1389.0L1703.5,1385.5L1704.0,1386.4L1704.4,1383.2L1704.8,1384.5L1705.7,1379.7L1706.4,1380.6L1707.2,1377.0L1708.1,1378.5L1709.3,1375.4L1710.5,1377.1L1711.9,1374.7L1713.4,1376.6L1715.0,1374.6L1716.6,1376.6L1718.0,1374.6L1719.3,1376.7L1721.3,1373.6L1722.9,1375.7L1724.8,1373.7L1726.0,1376.4L1727.3,1374.6L1728.6,1378.0L1730.0,1376.9L1731.3,1379.9L1732.6,1378.9L1733.7,1382.1L1734.7,1380.3L1735.7,1384.3L1736.7,1382.9L1737.9,1385.9L1739.2,1384.3L1740.4,1387.2L1741.7,1385.1L1743.1,1387.8L1744.6,1385.2L1746.1,1387.8L1747.6,1386.1L1749.0,1388.5L1750.3,1386.6L1751.6,1389.6L1752.8,1387.6L1754.0,1390.5L1755.2,1388.8L1756.4,1392.3L1757.7,1390.7L1759.1,1393.8L1760.1,1392.0L1761.1,1395.3L1762.2,1393.6L1763.3,1396.8L1764.4,1395.3L1765.5,1398.7L1766.7,1397.3L1767.9,1400.7L1769.0,1399.1L1770.2,1402.6L1771.3,1400.8L1772.4,1404.3L1773.7,1403.1L1774.9,1406.3L1776.2,1405.1L1777.5,1408.2L1778.7,1407.0L1780.0,1410.2L1781.2,1408.5L1782.4,1412.1L1783.6,1410.4L1784.7,1413.7L1785.7,1411.9L1787.2,1415.3L1788.6,1414.0L1789.9,1417.4L1791.0,1415.9L1792.2,1419.4L1793.4,1417.5L1794.6,1420.8L1795.9,1419.3L1797.3,1422.7L1798.6,1421.6L1800.0,1425.1L1801.3,1423.3L1802.4,1426.0L1803.5,1424.2L1804.9,1426.3L1806.0,1422.9L1806.9,1424.3L1807.9,1419.9L1808.4,1420.8L1808.8,1417.6L1809.2,1418.5L1809.7,1414.7L1810.1,1415.2L1810.6,1411.2L1811.0,1412.5L1811.5,1408.2L1811.9,1409.3L1812.3,1405.6L1812.8,1406.3L1813.2,1402.8L1813.7,1403.8L1814.1,1399.8L1814.6,1400.7L1815.0,1396.7L1815.4,1398.0L1815.9,1394.1L1816.3,1395.3L1816.8,1391.9L1817.4,1392.7L1817.9,1388.9L1818.4,1390.1L1819.0,1386.7L1819.6,1387.8L1820.3,1384.2L1821.2,1385.4L1822.3,1382.1L1823.5,1383.9L1824.8,1380.8L1826.2,1382.8L1827.6,1379.4L1828.9,1381.8L1830.1,1378.7L1831.9,1380.2L1833.6,1377.4L1835.2,1380.0L1836.7,1377.6L1838.3,1380.6L1839.9,1379.5L1841.3,1383.0L1842.3,1381.4" class="w" stroke-width="3.6"/>
</svg>
</body></html>
